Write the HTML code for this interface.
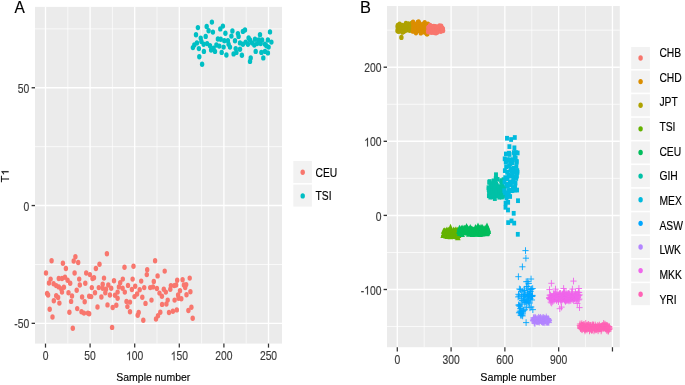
<!DOCTYPE html>
<html><head><meta charset="utf-8"><style>
html,body{margin:0;padding:0;background:#fff;}
svg{display:block;}
text{font-family:'Liberation Sans',sans-serif}
</style></head><body>
<div style="will-change:transform;width:685px;height:385px">
<svg width="685" height="385" viewBox="0 0 685 385" style="font-family:'Liberation Sans',sans-serif">
<rect width="685" height="385" fill="#fff"/>
<rect x="35" y="6.9" width="247" height="336.7" fill="#EBEBEB"/>
<line x1="35" x2="282" y1="28.85" y2="28.85" stroke="#fff" stroke-width="0.72"/>
<line x1="35" x2="282" y1="146.65" y2="146.65" stroke="#fff" stroke-width="0.72"/>
<line x1="35" x2="282" y1="264.45" y2="264.45" stroke="#fff" stroke-width="0.72"/>
<line x1="67.8" x2="67.8" y1="6.9" y2="343.6" stroke="#fff" stroke-width="0.65"/>
<line x1="112.4" x2="112.4" y1="6.9" y2="343.6" stroke="#fff" stroke-width="0.65"/>
<line x1="157" x2="157" y1="6.9" y2="343.6" stroke="#fff" stroke-width="0.65"/>
<line x1="201.6" x2="201.6" y1="6.9" y2="343.6" stroke="#fff" stroke-width="0.65"/>
<line x1="246.2" x2="246.2" y1="6.9" y2="343.6" stroke="#fff" stroke-width="0.65"/>
<line x1="35" x2="282" y1="87.75" y2="87.75" stroke="#fff" stroke-width="1.45"/>
<line x1="35" x2="282" y1="205.55" y2="205.55" stroke="#fff" stroke-width="1.45"/>
<line x1="35" x2="282" y1="323.35" y2="323.35" stroke="#fff" stroke-width="1.45"/>
<line x1="45.5" x2="45.5" y1="6.9" y2="343.6" stroke="#fff" stroke-width="1.3"/>
<line x1="90.1" x2="90.1" y1="6.9" y2="343.6" stroke="#fff" stroke-width="1.3"/>
<line x1="134.7" x2="134.7" y1="6.9" y2="343.6" stroke="#fff" stroke-width="1.3"/>
<line x1="179.3" x2="179.3" y1="6.9" y2="343.6" stroke="#fff" stroke-width="1.3"/>
<line x1="223.9" x2="223.9" y1="6.9" y2="343.6" stroke="#fff" stroke-width="1.3"/>
<line x1="268.5" x2="268.5" y1="6.9" y2="343.6" stroke="#fff" stroke-width="1.3"/>
<rect x="387" y="6" width="232.8" height="341.2" fill="#EBEBEB"/>
<line x1="387" x2="619.8" y1="30.15" y2="30.15" stroke="#fff" stroke-width="0.72"/>
<line x1="387" x2="619.8" y1="104.25" y2="104.25" stroke="#fff" stroke-width="0.72"/>
<line x1="387" x2="619.8" y1="178.35" y2="178.35" stroke="#fff" stroke-width="0.72"/>
<line x1="387" x2="619.8" y1="252.45" y2="252.45" stroke="#fff" stroke-width="0.72"/>
<line x1="387" x2="619.8" y1="326.55" y2="326.55" stroke="#fff" stroke-width="0.72"/>
<line x1="424.19" x2="424.19" y1="6" y2="347.2" stroke="#fff" stroke-width="0.65"/>
<line x1="477.99" x2="477.99" y1="6" y2="347.2" stroke="#fff" stroke-width="0.65"/>
<line x1="531.77" x2="531.77" y1="6" y2="347.2" stroke="#fff" stroke-width="0.65"/>
<line x1="585.57" x2="585.57" y1="6" y2="347.2" stroke="#fff" stroke-width="0.65"/>
<line x1="387" x2="619.8" y1="67.2" y2="67.2" stroke="#fff" stroke-width="1.45"/>
<line x1="387" x2="619.8" y1="141.3" y2="141.3" stroke="#fff" stroke-width="1.45"/>
<line x1="387" x2="619.8" y1="215.4" y2="215.4" stroke="#fff" stroke-width="1.45"/>
<line x1="387" x2="619.8" y1="289.5" y2="289.5" stroke="#fff" stroke-width="1.45"/>
<line x1="397.3" x2="397.3" y1="6" y2="347.2" stroke="#fff" stroke-width="1.3"/>
<line x1="451.09" x2="451.09" y1="6" y2="347.2" stroke="#fff" stroke-width="1.3"/>
<line x1="504.88" x2="504.88" y1="6" y2="347.2" stroke="#fff" stroke-width="1.3"/>
<line x1="558.67" x2="558.67" y1="6" y2="347.2" stroke="#fff" stroke-width="1.3"/>
<line x1="612.46" x2="612.46" y1="6" y2="347.2" stroke="#fff" stroke-width="1.3"/>
<ellipse cx="51.6" cy="260.7" rx="2.2" ry="2.7" fill="#F8766D"/>
<ellipse cx="75.4" cy="256.8" rx="2.2" ry="2.7" fill="#F8766D"/>
<ellipse cx="73.7" cy="261" rx="2.2" ry="2.7" fill="#F8766D"/>
<ellipse cx="78.2" cy="262.5" rx="2.2" ry="2.7" fill="#F8766D"/>
<ellipse cx="62.9" cy="263.3" rx="2.2" ry="2.7" fill="#F8766D"/>
<ellipse cx="65.9" cy="268.5" rx="2.2" ry="2.7" fill="#F8766D"/>
<ellipse cx="46" cy="273" rx="2.2" ry="2.7" fill="#F8766D"/>
<ellipse cx="74.6" cy="273" rx="2.2" ry="2.7" fill="#F8766D"/>
<ellipse cx="86.2" cy="273" rx="2.2" ry="2.7" fill="#F8766D"/>
<ellipse cx="89.9" cy="274.6" rx="2.2" ry="2.7" fill="#F8766D"/>
<ellipse cx="92.5" cy="278.5" rx="2.2" ry="2.7" fill="#F8766D"/>
<ellipse cx="50.6" cy="279.1" rx="2.2" ry="2.7" fill="#F8766D"/>
<ellipse cx="58.8" cy="278.5" rx="2.2" ry="2.7" fill="#F8766D"/>
<ellipse cx="62" cy="278.5" rx="2.2" ry="2.7" fill="#F8766D"/>
<ellipse cx="65" cy="277.2" rx="2.2" ry="2.7" fill="#F8766D"/>
<ellipse cx="67.6" cy="280.2" rx="2.2" ry="2.7" fill="#F8766D"/>
<ellipse cx="70.2" cy="283.3" rx="2.2" ry="2.7" fill="#F8766D"/>
<ellipse cx="79.2" cy="279.1" rx="2.2" ry="2.7" fill="#F8766D"/>
<ellipse cx="49" cy="283" rx="2.2" ry="2.7" fill="#F8766D"/>
<ellipse cx="53.6" cy="283.7" rx="2.2" ry="2.7" fill="#F8766D"/>
<ellipse cx="56.2" cy="285.6" rx="2.2" ry="2.7" fill="#F8766D"/>
<ellipse cx="58.8" cy="286.9" rx="2.2" ry="2.7" fill="#F8766D"/>
<ellipse cx="63.9" cy="287.2" rx="2.2" ry="2.7" fill="#F8766D"/>
<ellipse cx="61.3" cy="288.9" rx="2.2" ry="2.7" fill="#F8766D"/>
<ellipse cx="79.8" cy="285" rx="2.2" ry="2.7" fill="#F8766D"/>
<ellipse cx="85.3" cy="283.3" rx="2.2" ry="2.7" fill="#F8766D"/>
<ellipse cx="91.8" cy="287.6" rx="2.2" ry="2.7" fill="#F8766D"/>
<ellipse cx="76.7" cy="290.2" rx="2.2" ry="2.7" fill="#F8766D"/>
<ellipse cx="62" cy="292.1" rx="2.2" ry="2.7" fill="#F8766D"/>
<ellipse cx="68.5" cy="292.7" rx="2.2" ry="2.7" fill="#F8766D"/>
<ellipse cx="47.1" cy="293.4" rx="2.2" ry="2.7" fill="#F8766D"/>
<ellipse cx="48.1" cy="295" rx="2.2" ry="2.7" fill="#F8766D"/>
<ellipse cx="56.2" cy="295.7" rx="2.2" ry="2.7" fill="#F8766D"/>
<ellipse cx="72" cy="296" rx="2.2" ry="2.7" fill="#F8766D"/>
<ellipse cx="82.1" cy="297" rx="2.2" ry="2.7" fill="#F8766D"/>
<ellipse cx="89.2" cy="296.2" rx="2.2" ry="2.7" fill="#F8766D"/>
<ellipse cx="106.9" cy="253.8" rx="2.2" ry="2.7" fill="#F8766D"/>
<ellipse cx="99.5" cy="264.2" rx="2.2" ry="2.7" fill="#F8766D"/>
<ellipse cx="95.9" cy="268.5" rx="2.2" ry="2.7" fill="#F8766D"/>
<ellipse cx="124.5" cy="267.2" rx="2.2" ry="2.7" fill="#F8766D"/>
<ellipse cx="133.5" cy="266.2" rx="2.2" ry="2.7" fill="#F8766D"/>
<ellipse cx="147.2" cy="269.8" rx="2.2" ry="2.7" fill="#F8766D"/>
<ellipse cx="146.8" cy="274.6" rx="2.2" ry="2.7" fill="#F8766D"/>
<ellipse cx="94" cy="277.8" rx="2.2" ry="2.7" fill="#F8766D"/>
<ellipse cx="104" cy="278.1" rx="2.2" ry="2.7" fill="#F8766D"/>
<ellipse cx="114" cy="280.7" rx="2.2" ry="2.7" fill="#F8766D"/>
<ellipse cx="122.8" cy="279.1" rx="2.2" ry="2.7" fill="#F8766D"/>
<ellipse cx="120.2" cy="282.8" rx="2.2" ry="2.7" fill="#F8766D"/>
<ellipse cx="132.6" cy="279.1" rx="2.2" ry="2.7" fill="#F8766D"/>
<ellipse cx="141.2" cy="281.1" rx="2.2" ry="2.7" fill="#F8766D"/>
<ellipse cx="102.7" cy="284.3" rx="2.2" ry="2.7" fill="#F8766D"/>
<ellipse cx="108.3" cy="285" rx="2.2" ry="2.7" fill="#F8766D"/>
<ellipse cx="98.8" cy="287.6" rx="2.2" ry="2.7" fill="#F8766D"/>
<ellipse cx="102.7" cy="288.2" rx="2.2" ry="2.7" fill="#F8766D"/>
<ellipse cx="106" cy="289.2" rx="2.2" ry="2.7" fill="#F8766D"/>
<ellipse cx="111.2" cy="288.2" rx="2.2" ry="2.7" fill="#F8766D"/>
<ellipse cx="118.9" cy="286.9" rx="2.2" ry="2.7" fill="#F8766D"/>
<ellipse cx="122.6" cy="288.2" rx="2.2" ry="2.7" fill="#F8766D"/>
<ellipse cx="128" cy="285.4" rx="2.2" ry="2.7" fill="#F8766D"/>
<ellipse cx="135.2" cy="286.3" rx="2.2" ry="2.7" fill="#F8766D"/>
<ellipse cx="144.2" cy="287.6" rx="2.2" ry="2.7" fill="#F8766D"/>
<ellipse cx="131.9" cy="289.5" rx="2.2" ry="2.7" fill="#F8766D"/>
<ellipse cx="124.8" cy="292.1" rx="2.2" ry="2.7" fill="#F8766D"/>
<ellipse cx="95" cy="292.7" rx="2.2" ry="2.7" fill="#F8766D"/>
<ellipse cx="105.3" cy="292.7" rx="2.2" ry="2.7" fill="#F8766D"/>
<ellipse cx="117.6" cy="292.1" rx="2.2" ry="2.7" fill="#F8766D"/>
<ellipse cx="139.7" cy="289.8" rx="2.2" ry="2.7" fill="#F8766D"/>
<ellipse cx="137.1" cy="294" rx="2.2" ry="2.7" fill="#F8766D"/>
<ellipse cx="101.4" cy="297" rx="2.2" ry="2.7" fill="#F8766D"/>
<ellipse cx="109.9" cy="295" rx="2.2" ry="2.7" fill="#F8766D"/>
<ellipse cx="115" cy="295.3" rx="2.2" ry="2.7" fill="#F8766D"/>
<ellipse cx="134.5" cy="296.6" rx="2.2" ry="2.7" fill="#F8766D"/>
<ellipse cx="142.3" cy="297.3" rx="2.2" ry="2.7" fill="#F8766D"/>
<ellipse cx="155.1" cy="260.7" rx="2.2" ry="2.7" fill="#F8766D"/>
<ellipse cx="164.7" cy="271.1" rx="2.2" ry="2.7" fill="#F8766D"/>
<ellipse cx="157.6" cy="275.9" rx="2.2" ry="2.7" fill="#F8766D"/>
<ellipse cx="153.8" cy="281.5" rx="2.2" ry="2.7" fill="#F8766D"/>
<ellipse cx="177.2" cy="280.2" rx="2.2" ry="2.7" fill="#F8766D"/>
<ellipse cx="182.6" cy="279.8" rx="2.2" ry="2.7" fill="#F8766D"/>
<ellipse cx="189.7" cy="278.1" rx="2.2" ry="2.7" fill="#F8766D"/>
<ellipse cx="150.2" cy="287.6" rx="2.2" ry="2.7" fill="#F8766D"/>
<ellipse cx="153" cy="286.9" rx="2.2" ry="2.7" fill="#F8766D"/>
<ellipse cx="156.9" cy="288.5" rx="2.2" ry="2.7" fill="#F8766D"/>
<ellipse cx="163.8" cy="289.2" rx="2.2" ry="2.7" fill="#F8766D"/>
<ellipse cx="170.9" cy="285.6" rx="2.2" ry="2.7" fill="#F8766D"/>
<ellipse cx="174.2" cy="285.6" rx="2.2" ry="2.7" fill="#F8766D"/>
<ellipse cx="176.1" cy="285" rx="2.2" ry="2.7" fill="#F8766D"/>
<ellipse cx="170.3" cy="289.2" rx="2.2" ry="2.7" fill="#F8766D"/>
<ellipse cx="183.9" cy="285" rx="2.2" ry="2.7" fill="#F8766D"/>
<ellipse cx="186.2" cy="284.6" rx="2.2" ry="2.7" fill="#F8766D"/>
<ellipse cx="185.2" cy="287.6" rx="2.2" ry="2.7" fill="#F8766D"/>
<ellipse cx="165.8" cy="292.1" rx="2.2" ry="2.7" fill="#F8766D"/>
<ellipse cx="159.5" cy="293.1" rx="2.2" ry="2.7" fill="#F8766D"/>
<ellipse cx="180" cy="290.8" rx="2.2" ry="2.7" fill="#F8766D"/>
<ellipse cx="190.4" cy="291.8" rx="2.2" ry="2.7" fill="#F8766D"/>
<ellipse cx="178.1" cy="295" rx="2.2" ry="2.7" fill="#F8766D"/>
<ellipse cx="186.5" cy="294.7" rx="2.2" ry="2.7" fill="#F8766D"/>
<ellipse cx="161.9" cy="296.2" rx="2.2" ry="2.7" fill="#F8766D"/>
<ellipse cx="58.1" cy="297.5" rx="2.2" ry="2.7" fill="#F8766D"/>
<ellipse cx="53.8" cy="300.8" rx="2.2" ry="2.7" fill="#F8766D"/>
<ellipse cx="59.4" cy="303.1" rx="2.2" ry="2.7" fill="#F8766D"/>
<ellipse cx="71.1" cy="301.4" rx="2.2" ry="2.7" fill="#F8766D"/>
<ellipse cx="84.7" cy="301.8" rx="2.2" ry="2.7" fill="#F8766D"/>
<ellipse cx="91.2" cy="296.6" rx="2.2" ry="2.7" fill="#F8766D"/>
<ellipse cx="49.7" cy="309.2" rx="2.2" ry="2.7" fill="#F8766D"/>
<ellipse cx="69.4" cy="312.2" rx="2.2" ry="2.7" fill="#F8766D"/>
<ellipse cx="77.2" cy="308.6" rx="2.2" ry="2.7" fill="#F8766D"/>
<ellipse cx="81.5" cy="311.8" rx="2.2" ry="2.7" fill="#F8766D"/>
<ellipse cx="84" cy="313.1" rx="2.2" ry="2.7" fill="#F8766D"/>
<ellipse cx="87.9" cy="313.1" rx="2.2" ry="2.7" fill="#F8766D"/>
<ellipse cx="89.2" cy="313.8" rx="2.2" ry="2.7" fill="#F8766D"/>
<ellipse cx="52.5" cy="317" rx="2.2" ry="2.7" fill="#F8766D"/>
<ellipse cx="72.8" cy="328.3" rx="2.2" ry="2.7" fill="#F8766D"/>
<ellipse cx="117.6" cy="298.2" rx="2.2" ry="2.7" fill="#F8766D"/>
<ellipse cx="97.5" cy="307" rx="2.2" ry="2.7" fill="#F8766D"/>
<ellipse cx="107.5" cy="304.9" rx="2.2" ry="2.7" fill="#F8766D"/>
<ellipse cx="112.7" cy="307.5" rx="2.2" ry="2.7" fill="#F8766D"/>
<ellipse cx="116.3" cy="305.3" rx="2.2" ry="2.7" fill="#F8766D"/>
<ellipse cx="126.5" cy="301.4" rx="2.2" ry="2.7" fill="#F8766D"/>
<ellipse cx="130" cy="302.1" rx="2.2" ry="2.7" fill="#F8766D"/>
<ellipse cx="127.4" cy="306.6" rx="2.2" ry="2.7" fill="#F8766D"/>
<ellipse cx="130" cy="311.8" rx="2.2" ry="2.7" fill="#F8766D"/>
<ellipse cx="138.7" cy="312.5" rx="2.2" ry="2.7" fill="#F8766D"/>
<ellipse cx="137.7" cy="315.3" rx="2.2" ry="2.7" fill="#F8766D"/>
<ellipse cx="145.5" cy="303.4" rx="2.2" ry="2.7" fill="#F8766D"/>
<ellipse cx="143.3" cy="320.2" rx="2.2" ry="2.7" fill="#F8766D"/>
<ellipse cx="112.1" cy="327.4" rx="2.2" ry="2.7" fill="#F8766D"/>
<ellipse cx="151.5" cy="300.1" rx="2.2" ry="2.7" fill="#F8766D"/>
<ellipse cx="167.7" cy="300.1" rx="2.2" ry="2.7" fill="#F8766D"/>
<ellipse cx="166.4" cy="304" rx="2.2" ry="2.7" fill="#F8766D"/>
<ellipse cx="162.1" cy="304.4" rx="2.2" ry="2.7" fill="#F8766D"/>
<ellipse cx="174.6" cy="300.1" rx="2.2" ry="2.7" fill="#F8766D"/>
<ellipse cx="181.3" cy="298.8" rx="2.2" ry="2.7" fill="#F8766D"/>
<ellipse cx="178.5" cy="298.2" rx="2.2" ry="2.7" fill="#F8766D"/>
<ellipse cx="160.3" cy="312.2" rx="2.2" ry="2.7" fill="#F8766D"/>
<ellipse cx="158" cy="315.7" rx="2.2" ry="2.7" fill="#F8766D"/>
<ellipse cx="156" cy="319" rx="2.2" ry="2.7" fill="#F8766D"/>
<ellipse cx="169" cy="312.5" rx="2.2" ry="2.7" fill="#F8766D"/>
<ellipse cx="172.9" cy="311.2" rx="2.2" ry="2.7" fill="#F8766D"/>
<ellipse cx="176.8" cy="309.9" rx="2.2" ry="2.7" fill="#F8766D"/>
<ellipse cx="188.4" cy="310.5" rx="2.2" ry="2.7" fill="#F8766D"/>
<ellipse cx="191.4" cy="307.3" rx="2.2" ry="2.7" fill="#F8766D"/>
<ellipse cx="192.7" cy="318.3" rx="2.2" ry="2.7" fill="#F8766D"/>
<ellipse cx="211.9" cy="22.1" rx="2.2" ry="2.7" fill="#00BFC4"/>
<ellipse cx="197.9" cy="27.6" rx="2.2" ry="2.7" fill="#00BFC4"/>
<ellipse cx="206.7" cy="26.4" rx="2.2" ry="2.7" fill="#00BFC4"/>
<ellipse cx="222.9" cy="26.1" rx="2.2" ry="2.7" fill="#00BFC4"/>
<ellipse cx="220.3" cy="28.9" rx="2.2" ry="2.7" fill="#00BFC4"/>
<ellipse cx="208.6" cy="30.7" rx="2.2" ry="2.7" fill="#00BFC4"/>
<ellipse cx="212.9" cy="32.1" rx="2.2" ry="2.7" fill="#00BFC4"/>
<ellipse cx="225.4" cy="33.3" rx="2.2" ry="2.7" fill="#00BFC4"/>
<ellipse cx="196" cy="34.7" rx="2.2" ry="2.7" fill="#00BFC4"/>
<ellipse cx="205.7" cy="36.4" rx="2.2" ry="2.7" fill="#00BFC4"/>
<ellipse cx="200.7" cy="38.1" rx="2.2" ry="2.7" fill="#00BFC4"/>
<ellipse cx="217.9" cy="39" rx="2.2" ry="2.7" fill="#00BFC4"/>
<ellipse cx="220.7" cy="39.3" rx="2.2" ry="2.7" fill="#00BFC4"/>
<ellipse cx="224.3" cy="40.7" rx="2.2" ry="2.7" fill="#00BFC4"/>
<ellipse cx="227.9" cy="40.7" rx="2.2" ry="2.7" fill="#00BFC4"/>
<ellipse cx="201.4" cy="41.4" rx="2.2" ry="2.7" fill="#00BFC4"/>
<ellipse cx="196.9" cy="42.9" rx="2.2" ry="2.7" fill="#00BFC4"/>
<ellipse cx="203.6" cy="44.3" rx="2.2" ry="2.7" fill="#00BFC4"/>
<ellipse cx="207.1" cy="43.6" rx="2.2" ry="2.7" fill="#00BFC4"/>
<ellipse cx="194.3" cy="45" rx="2.2" ry="2.7" fill="#00BFC4"/>
<ellipse cx="210" cy="45.7" rx="2.2" ry="2.7" fill="#00BFC4"/>
<ellipse cx="216.4" cy="45" rx="2.2" ry="2.7" fill="#00BFC4"/>
<ellipse cx="219.3" cy="46.1" rx="2.2" ry="2.7" fill="#00BFC4"/>
<ellipse cx="192.9" cy="47.6" rx="2.2" ry="2.7" fill="#00BFC4"/>
<ellipse cx="198.9" cy="48.6" rx="2.2" ry="2.7" fill="#00BFC4"/>
<ellipse cx="213.6" cy="48.1" rx="2.2" ry="2.7" fill="#00BFC4"/>
<ellipse cx="223.6" cy="47.1" rx="2.2" ry="2.7" fill="#00BFC4"/>
<ellipse cx="211.1" cy="50" rx="2.2" ry="2.7" fill="#00BFC4"/>
<ellipse cx="215" cy="51.4" rx="2.2" ry="2.7" fill="#00BFC4"/>
<ellipse cx="203.9" cy="51.4" rx="2.2" ry="2.7" fill="#00BFC4"/>
<ellipse cx="221.7" cy="52.4" rx="2.2" ry="2.7" fill="#00BFC4"/>
<ellipse cx="226.4" cy="55" rx="2.2" ry="2.7" fill="#00BFC4"/>
<ellipse cx="199.3" cy="56.7" rx="2.2" ry="2.7" fill="#00BFC4"/>
<ellipse cx="202.1" cy="64.3" rx="2.2" ry="2.7" fill="#00BFC4"/>
<ellipse cx="232.4" cy="31" rx="2.2" ry="2.7" fill="#00BFC4"/>
<ellipse cx="237.9" cy="33.6" rx="2.2" ry="2.7" fill="#00BFC4"/>
<ellipse cx="242.9" cy="31.4" rx="2.2" ry="2.7" fill="#00BFC4"/>
<ellipse cx="245" cy="30" rx="2.2" ry="2.7" fill="#00BFC4"/>
<ellipse cx="231.4" cy="36.1" rx="2.2" ry="2.7" fill="#00BFC4"/>
<ellipse cx="238.6" cy="36.4" rx="2.2" ry="2.7" fill="#00BFC4"/>
<ellipse cx="260" cy="34.7" rx="2.2" ry="2.7" fill="#00BFC4"/>
<ellipse cx="235" cy="40.7" rx="2.2" ry="2.7" fill="#00BFC4"/>
<ellipse cx="248.6" cy="37.9" rx="2.2" ry="2.7" fill="#00BFC4"/>
<ellipse cx="250" cy="40" rx="2.2" ry="2.7" fill="#00BFC4"/>
<ellipse cx="255" cy="39.3" rx="2.2" ry="2.7" fill="#00BFC4"/>
<ellipse cx="258.6" cy="40" rx="2.2" ry="2.7" fill="#00BFC4"/>
<ellipse cx="262.1" cy="40" rx="2.2" ry="2.7" fill="#00BFC4"/>
<ellipse cx="240" cy="42.9" rx="2.2" ry="2.7" fill="#00BFC4"/>
<ellipse cx="242.9" cy="44.3" rx="2.2" ry="2.7" fill="#00BFC4"/>
<ellipse cx="245.7" cy="42.1" rx="2.2" ry="2.7" fill="#00BFC4"/>
<ellipse cx="247.9" cy="44.3" rx="2.2" ry="2.7" fill="#00BFC4"/>
<ellipse cx="252.1" cy="42.9" rx="2.2" ry="2.7" fill="#00BFC4"/>
<ellipse cx="254.3" cy="45" rx="2.2" ry="2.7" fill="#00BFC4"/>
<ellipse cx="257.1" cy="43.6" rx="2.2" ry="2.7" fill="#00BFC4"/>
<ellipse cx="260.7" cy="43.6" rx="2.2" ry="2.7" fill="#00BFC4"/>
<ellipse cx="228.6" cy="44.3" rx="2.2" ry="2.7" fill="#00BFC4"/>
<ellipse cx="230" cy="47.1" rx="2.2" ry="2.7" fill="#00BFC4"/>
<ellipse cx="235.7" cy="48.6" rx="2.2" ry="2.7" fill="#00BFC4"/>
<ellipse cx="240" cy="49.3" rx="2.2" ry="2.7" fill="#00BFC4"/>
<ellipse cx="236.4" cy="52.4" rx="2.2" ry="2.7" fill="#00BFC4"/>
<ellipse cx="233.6" cy="53.9" rx="2.2" ry="2.7" fill="#00BFC4"/>
<ellipse cx="241.9" cy="55.3" rx="2.2" ry="2.7" fill="#00BFC4"/>
<ellipse cx="255.7" cy="51.4" rx="2.2" ry="2.7" fill="#00BFC4"/>
<ellipse cx="261.4" cy="52.4" rx="2.2" ry="2.7" fill="#00BFC4"/>
<ellipse cx="263.3" cy="57.9" rx="2.2" ry="2.7" fill="#00BFC4"/>
<ellipse cx="250.7" cy="57.9" rx="2.2" ry="2.7" fill="#00BFC4"/>
<ellipse cx="250" cy="61.4" rx="2.2" ry="2.7" fill="#00BFC4"/>
<ellipse cx="270" cy="31.9" rx="2.2" ry="2.7" fill="#00BFC4"/>
<ellipse cx="267.9" cy="40" rx="2.2" ry="2.7" fill="#00BFC4"/>
<ellipse cx="271.4" cy="42.1" rx="2.2" ry="2.7" fill="#00BFC4"/>
<ellipse cx="265" cy="44.3" rx="2.2" ry="2.7" fill="#00BFC4"/>
<ellipse cx="268.6" cy="47.1" rx="2.2" ry="2.7" fill="#00BFC4"/>
<ellipse cx="266.4" cy="45.7" rx="2.2" ry="2.7" fill="#00BFC4"/>
<ellipse cx="265" cy="51.4" rx="2.2" ry="2.7" fill="#00BFC4"/>
<ellipse cx="267.9" cy="52.9" rx="2.2" ry="2.7" fill="#00BFC4"/>
<ellipse cx="397.48" cy="30.83" rx="2.2" ry="2.7" fill="#AEA200"/>
<ellipse cx="397.66" cy="27.03" rx="2.2" ry="2.7" fill="#AEA200"/>
<ellipse cx="397.84" cy="25.57" rx="2.2" ry="2.7" fill="#AEA200"/>
<ellipse cx="398.02" cy="29.14" rx="2.2" ry="2.7" fill="#AEA200"/>
<ellipse cx="398.2" cy="31.08" rx="2.2" ry="2.7" fill="#AEA200"/>
<ellipse cx="398.38" cy="28.08" rx="2.2" ry="2.7" fill="#AEA200"/>
<ellipse cx="398.56" cy="26.79" rx="2.2" ry="2.7" fill="#AEA200"/>
<ellipse cx="398.73" cy="25.32" rx="2.2" ry="2.7" fill="#AEA200"/>
<ellipse cx="398.91" cy="30.81" rx="2.2" ry="2.7" fill="#AEA200"/>
<ellipse cx="399.09" cy="30.99" rx="2.2" ry="2.7" fill="#AEA200"/>
<ellipse cx="399.27" cy="26.25" rx="2.2" ry="2.7" fill="#AEA200"/>
<ellipse cx="399.45" cy="26.8" rx="2.2" ry="2.7" fill="#AEA200"/>
<ellipse cx="399.63" cy="24.29" rx="2.2" ry="2.7" fill="#AEA200"/>
<ellipse cx="399.81" cy="25.6" rx="2.2" ry="2.7" fill="#AEA200"/>
<ellipse cx="399.99" cy="28.17" rx="2.2" ry="2.7" fill="#AEA200"/>
<ellipse cx="400.17" cy="28.58" rx="2.2" ry="2.7" fill="#AEA200"/>
<ellipse cx="400.35" cy="28.61" rx="2.2" ry="2.7" fill="#AEA200"/>
<ellipse cx="400.53" cy="29.79" rx="2.2" ry="2.7" fill="#AEA200"/>
<ellipse cx="400.71" cy="30.63" rx="2.2" ry="2.7" fill="#AEA200"/>
<ellipse cx="400.89" cy="27.7" rx="2.2" ry="2.7" fill="#AEA200"/>
<ellipse cx="401.07" cy="27.58" rx="2.2" ry="2.7" fill="#AEA200"/>
<ellipse cx="401.24" cy="28.74" rx="2.2" ry="2.7" fill="#AEA200"/>
<ellipse cx="401.4" cy="37.4" rx="2.2" ry="2.7" fill="#AEA200"/>
<ellipse cx="401.6" cy="28.07" rx="2.2" ry="2.7" fill="#AEA200"/>
<ellipse cx="401.78" cy="27.28" rx="2.2" ry="2.7" fill="#AEA200"/>
<ellipse cx="401.96" cy="26.29" rx="2.2" ry="2.7" fill="#AEA200"/>
<ellipse cx="402.14" cy="25.33" rx="2.2" ry="2.7" fill="#AEA200"/>
<ellipse cx="402.32" cy="27.43" rx="2.2" ry="2.7" fill="#AEA200"/>
<ellipse cx="402.5" cy="32.17" rx="2.2" ry="2.7" fill="#AEA200"/>
<ellipse cx="402.68" cy="26.26" rx="2.2" ry="2.7" fill="#AEA200"/>
<ellipse cx="402.86" cy="31.29" rx="2.2" ry="2.7" fill="#AEA200"/>
<ellipse cx="403.04" cy="28.33" rx="2.2" ry="2.7" fill="#AEA200"/>
<ellipse cx="403.22" cy="31.42" rx="2.2" ry="2.7" fill="#AEA200"/>
<ellipse cx="403.4" cy="27.92" rx="2.2" ry="2.7" fill="#AEA200"/>
<ellipse cx="403.58" cy="29.77" rx="2.2" ry="2.7" fill="#AEA200"/>
<ellipse cx="403.75" cy="27.42" rx="2.2" ry="2.7" fill="#AEA200"/>
<ellipse cx="403.93" cy="28.04" rx="2.2" ry="2.7" fill="#AEA200"/>
<ellipse cx="404.11" cy="25.93" rx="2.2" ry="2.7" fill="#AEA200"/>
<ellipse cx="404.29" cy="31.06" rx="2.2" ry="2.7" fill="#AEA200"/>
<ellipse cx="404.47" cy="28.61" rx="2.2" ry="2.7" fill="#AEA200"/>
<ellipse cx="404.65" cy="26.36" rx="2.2" ry="2.7" fill="#AEA200"/>
<ellipse cx="404.83" cy="28.15" rx="2.2" ry="2.7" fill="#AEA200"/>
<ellipse cx="405.01" cy="27.05" rx="2.2" ry="2.7" fill="#AEA200"/>
<ellipse cx="405.19" cy="27.68" rx="2.2" ry="2.7" fill="#AEA200"/>
<ellipse cx="405.37" cy="30.31" rx="2.2" ry="2.7" fill="#AEA200"/>
<ellipse cx="405.55" cy="26.59" rx="2.2" ry="2.7" fill="#AEA200"/>
<ellipse cx="405.73" cy="29.85" rx="2.2" ry="2.7" fill="#AEA200"/>
<ellipse cx="405.91" cy="23.49" rx="2.2" ry="2.7" fill="#AEA200"/>
<ellipse cx="406.09" cy="29.12" rx="2.2" ry="2.7" fill="#AEA200"/>
<ellipse cx="406.26" cy="26.3" rx="2.2" ry="2.7" fill="#AEA200"/>
<ellipse cx="406.44" cy="27.92" rx="2.2" ry="2.7" fill="#AEA200"/>
<ellipse cx="406.62" cy="25.67" rx="2.2" ry="2.7" fill="#AEA200"/>
<ellipse cx="406.8" cy="29.35" rx="2.2" ry="2.7" fill="#AEA200"/>
<ellipse cx="406.98" cy="25.56" rx="2.2" ry="2.7" fill="#AEA200"/>
<ellipse cx="407.16" cy="28.22" rx="2.2" ry="2.7" fill="#AEA200"/>
<ellipse cx="407.34" cy="24.93" rx="2.2" ry="2.7" fill="#AEA200"/>
<ellipse cx="407.52" cy="26.45" rx="2.2" ry="2.7" fill="#AEA200"/>
<ellipse cx="407.7" cy="27.59" rx="2.2" ry="2.7" fill="#AEA200"/>
<ellipse cx="407.88" cy="29.78" rx="2.2" ry="2.7" fill="#AEA200"/>
<ellipse cx="408.06" cy="26.11" rx="2.2" ry="2.7" fill="#AEA200"/>
<ellipse cx="408.24" cy="26.82" rx="2.2" ry="2.7" fill="#AEA200"/>
<ellipse cx="408.42" cy="24.03" rx="2.2" ry="2.7" fill="#AEA200"/>
<ellipse cx="408.6" cy="28.82" rx="2.2" ry="2.7" fill="#AEA200"/>
<ellipse cx="408.78" cy="26.61" rx="2.2" ry="2.7" fill="#AEA200"/>
<ellipse cx="408.95" cy="26.72" rx="2.2" ry="2.7" fill="#AEA200"/>
<ellipse cx="409.13" cy="27.26" rx="2.2" ry="2.7" fill="#AEA200"/>
<ellipse cx="409.31" cy="27.43" rx="2.2" ry="2.7" fill="#AEA200"/>
<ellipse cx="409.49" cy="27.5" rx="2.2" ry="2.7" fill="#AEA200"/>
<ellipse cx="409.67" cy="29.35" rx="2.2" ry="2.7" fill="#AEA200"/>
<ellipse cx="409.85" cy="30.33" rx="2.2" ry="2.7" fill="#AEA200"/>
<ellipse cx="410.03" cy="28.87" rx="2.2" ry="2.7" fill="#AEA200"/>
<ellipse cx="410.21" cy="26.53" rx="2.2" ry="2.7" fill="#AEA200"/>
<ellipse cx="410.39" cy="24.34" rx="2.2" ry="2.7" fill="#AEA200"/>
<ellipse cx="410.57" cy="25.61" rx="2.2" ry="2.7" fill="#AEA200"/>
<ellipse cx="410.75" cy="25.43" rx="2.2" ry="2.7" fill="#AEA200"/>
<ellipse cx="410.93" cy="26.08" rx="2.2" ry="2.7" fill="#AEA200"/>
<ellipse cx="411.11" cy="26.27" rx="2.2" ry="2.7" fill="#AEA200"/>
<ellipse cx="411.29" cy="27.49" rx="2.2" ry="2.7" fill="#AEA200"/>
<ellipse cx="411.46" cy="26.1" rx="2.2" ry="2.7" fill="#AEA200"/>
<ellipse cx="411.64" cy="23.72" rx="2.2" ry="2.7" fill="#AEA200"/>
<ellipse cx="411.82" cy="28.7" rx="2.2" ry="2.7" fill="#AEA200"/>
<ellipse cx="412" cy="29.57" rx="2.2" ry="2.7" fill="#AEA200"/>
<ellipse cx="412.18" cy="23.28" rx="2.2" ry="2.7" fill="#AEA200"/>
<ellipse cx="412.36" cy="27.35" rx="2.2" ry="2.7" fill="#AEA200"/>
<ellipse cx="412.54" cy="25.62" rx="2.2" ry="2.7" fill="#AEA200"/>
<ellipse cx="412.72" cy="25.85" rx="2.2" ry="2.7" fill="#AEA200"/>
<ellipse cx="412.9" cy="31.16" rx="2.2" ry="2.7" fill="#DB8E00"/>
<ellipse cx="413.08" cy="22.17" rx="2.2" ry="2.7" fill="#DB8E00"/>
<ellipse cx="413.26" cy="23.82" rx="2.2" ry="2.7" fill="#DB8E00"/>
<ellipse cx="413.44" cy="27.85" rx="2.2" ry="2.7" fill="#DB8E00"/>
<ellipse cx="413.62" cy="26.4" rx="2.2" ry="2.7" fill="#DB8E00"/>
<ellipse cx="413.8" cy="27.98" rx="2.2" ry="2.7" fill="#DB8E00"/>
<ellipse cx="413.97" cy="30.53" rx="2.2" ry="2.7" fill="#DB8E00"/>
<ellipse cx="414.15" cy="28.58" rx="2.2" ry="2.7" fill="#DB8E00"/>
<ellipse cx="414.33" cy="27.36" rx="2.2" ry="2.7" fill="#DB8E00"/>
<ellipse cx="414.51" cy="25.49" rx="2.2" ry="2.7" fill="#DB8E00"/>
<ellipse cx="414.69" cy="26.51" rx="2.2" ry="2.7" fill="#DB8E00"/>
<ellipse cx="414.87" cy="28.15" rx="2.2" ry="2.7" fill="#DB8E00"/>
<ellipse cx="415.05" cy="24.88" rx="2.2" ry="2.7" fill="#DB8E00"/>
<ellipse cx="415.23" cy="30.21" rx="2.2" ry="2.7" fill="#DB8E00"/>
<ellipse cx="415.41" cy="26.3" rx="2.2" ry="2.7" fill="#DB8E00"/>
<ellipse cx="415.59" cy="25.5" rx="2.2" ry="2.7" fill="#DB8E00"/>
<ellipse cx="415.77" cy="29.03" rx="2.2" ry="2.7" fill="#DB8E00"/>
<ellipse cx="415.95" cy="32.81" rx="2.2" ry="2.7" fill="#DB8E00"/>
<ellipse cx="416.13" cy="30.58" rx="2.2" ry="2.7" fill="#DB8E00"/>
<ellipse cx="416.31" cy="27.7" rx="2.2" ry="2.7" fill="#DB8E00"/>
<ellipse cx="416.49" cy="26.97" rx="2.2" ry="2.7" fill="#DB8E00"/>
<ellipse cx="416.66" cy="24.4" rx="2.2" ry="2.7" fill="#DB8E00"/>
<ellipse cx="416.84" cy="30.83" rx="2.2" ry="2.7" fill="#DB8E00"/>
<ellipse cx="417.02" cy="28.29" rx="2.2" ry="2.7" fill="#DB8E00"/>
<ellipse cx="417.2" cy="26.66" rx="2.2" ry="2.7" fill="#DB8E00"/>
<ellipse cx="417.38" cy="28.69" rx="2.2" ry="2.7" fill="#DB8E00"/>
<ellipse cx="417.56" cy="26.27" rx="2.2" ry="2.7" fill="#DB8E00"/>
<ellipse cx="417.74" cy="22.47" rx="2.2" ry="2.7" fill="#DB8E00"/>
<ellipse cx="417.92" cy="25.77" rx="2.2" ry="2.7" fill="#DB8E00"/>
<ellipse cx="418.1" cy="30.61" rx="2.2" ry="2.7" fill="#DB8E00"/>
<ellipse cx="418.28" cy="29.34" rx="2.2" ry="2.7" fill="#DB8E00"/>
<ellipse cx="418.46" cy="27.74" rx="2.2" ry="2.7" fill="#DB8E00"/>
<ellipse cx="418.64" cy="22.03" rx="2.2" ry="2.7" fill="#DB8E00"/>
<ellipse cx="418.82" cy="26.74" rx="2.2" ry="2.7" fill="#DB8E00"/>
<ellipse cx="419" cy="28.01" rx="2.2" ry="2.7" fill="#DB8E00"/>
<ellipse cx="419.17" cy="24.37" rx="2.2" ry="2.7" fill="#DB8E00"/>
<ellipse cx="419.35" cy="28.5" rx="2.2" ry="2.7" fill="#DB8E00"/>
<ellipse cx="419.53" cy="23.61" rx="2.2" ry="2.7" fill="#DB8E00"/>
<ellipse cx="419.71" cy="30.02" rx="2.2" ry="2.7" fill="#DB8E00"/>
<ellipse cx="419.89" cy="29.49" rx="2.2" ry="2.7" fill="#DB8E00"/>
<ellipse cx="420.07" cy="26.48" rx="2.2" ry="2.7" fill="#DB8E00"/>
<ellipse cx="420.25" cy="24.71" rx="2.2" ry="2.7" fill="#DB8E00"/>
<ellipse cx="420.43" cy="26.65" rx="2.2" ry="2.7" fill="#DB8E00"/>
<ellipse cx="420.61" cy="27.54" rx="2.2" ry="2.7" fill="#DB8E00"/>
<ellipse cx="420.79" cy="32.89" rx="2.2" ry="2.7" fill="#DB8E00"/>
<ellipse cx="420.97" cy="30.09" rx="2.2" ry="2.7" fill="#DB8E00"/>
<ellipse cx="421.15" cy="29.84" rx="2.2" ry="2.7" fill="#DB8E00"/>
<ellipse cx="421.33" cy="29.64" rx="2.2" ry="2.7" fill="#DB8E00"/>
<ellipse cx="421.51" cy="26.82" rx="2.2" ry="2.7" fill="#DB8E00"/>
<ellipse cx="421.68" cy="29.14" rx="2.2" ry="2.7" fill="#DB8E00"/>
<ellipse cx="421.86" cy="26.31" rx="2.2" ry="2.7" fill="#DB8E00"/>
<ellipse cx="422.04" cy="28.09" rx="2.2" ry="2.7" fill="#DB8E00"/>
<ellipse cx="422.22" cy="29.14" rx="2.2" ry="2.7" fill="#DB8E00"/>
<ellipse cx="422.4" cy="28" rx="2.2" ry="2.7" fill="#DB8E00"/>
<ellipse cx="422.58" cy="27.22" rx="2.2" ry="2.7" fill="#DB8E00"/>
<ellipse cx="422.76" cy="26.14" rx="2.2" ry="2.7" fill="#DB8E00"/>
<ellipse cx="422.94" cy="29.5" rx="2.2" ry="2.7" fill="#DB8E00"/>
<ellipse cx="423.12" cy="28.88" rx="2.2" ry="2.7" fill="#DB8E00"/>
<ellipse cx="423.3" cy="31.73" rx="2.2" ry="2.7" fill="#DB8E00"/>
<ellipse cx="423.48" cy="24.26" rx="2.2" ry="2.7" fill="#DB8E00"/>
<ellipse cx="423.66" cy="24.64" rx="2.2" ry="2.7" fill="#DB8E00"/>
<ellipse cx="423.84" cy="28.75" rx="2.2" ry="2.7" fill="#DB8E00"/>
<ellipse cx="424.02" cy="29.5" rx="2.2" ry="2.7" fill="#DB8E00"/>
<ellipse cx="424.19" cy="31.41" rx="2.2" ry="2.7" fill="#DB8E00"/>
<ellipse cx="424.37" cy="27.87" rx="2.2" ry="2.7" fill="#DB8E00"/>
<ellipse cx="424.55" cy="27.78" rx="2.2" ry="2.7" fill="#DB8E00"/>
<ellipse cx="424.73" cy="22.8" rx="2.2" ry="2.7" fill="#DB8E00"/>
<ellipse cx="424.91" cy="27.68" rx="2.2" ry="2.7" fill="#DB8E00"/>
<ellipse cx="425.09" cy="30.26" rx="2.2" ry="2.7" fill="#DB8E00"/>
<ellipse cx="425.27" cy="24.75" rx="2.2" ry="2.7" fill="#DB8E00"/>
<ellipse cx="425.45" cy="27.82" rx="2.2" ry="2.7" fill="#DB8E00"/>
<ellipse cx="425.63" cy="32.35" rx="2.2" ry="2.7" fill="#DB8E00"/>
<ellipse cx="425.81" cy="27.84" rx="2.2" ry="2.7" fill="#DB8E00"/>
<ellipse cx="425.99" cy="32.35" rx="2.2" ry="2.7" fill="#DB8E00"/>
<ellipse cx="426.17" cy="25.48" rx="2.2" ry="2.7" fill="#DB8E00"/>
<ellipse cx="426.35" cy="26.86" rx="2.2" ry="2.7" fill="#DB8E00"/>
<ellipse cx="426.53" cy="28.74" rx="2.2" ry="2.7" fill="#DB8E00"/>
<ellipse cx="426.71" cy="33.69" rx="2.2" ry="2.7" fill="#DB8E00"/>
<ellipse cx="426.88" cy="28.62" rx="2.2" ry="2.7" fill="#DB8E00"/>
<ellipse cx="427.06" cy="32.21" rx="2.2" ry="2.7" fill="#DB8E00"/>
<ellipse cx="427.24" cy="26.8" rx="2.2" ry="2.7" fill="#DB8E00"/>
<ellipse cx="427.42" cy="33.69" rx="2.2" ry="2.7" fill="#DB8E00"/>
<ellipse cx="427.6" cy="30.58" rx="2.2" ry="2.7" fill="#DB8E00"/>
<ellipse cx="427.78" cy="25.22" rx="2.2" ry="2.7" fill="#DB8E00"/>
<ellipse cx="427.96" cy="24.16" rx="2.2" ry="2.7" fill="#DB8E00"/>
<ellipse cx="428.14" cy="31.14" rx="2.2" ry="2.7" fill="#F8766D"/>
<ellipse cx="428.32" cy="31.77" rx="2.2" ry="2.7" fill="#F8766D"/>
<ellipse cx="428.5" cy="27.47" rx="2.2" ry="2.7" fill="#F8766D"/>
<ellipse cx="428.68" cy="27.52" rx="2.2" ry="2.7" fill="#F8766D"/>
<ellipse cx="428.86" cy="30.79" rx="2.2" ry="2.7" fill="#F8766D"/>
<ellipse cx="429.04" cy="30.27" rx="2.2" ry="2.7" fill="#F8766D"/>
<ellipse cx="429.22" cy="30.27" rx="2.2" ry="2.7" fill="#F8766D"/>
<ellipse cx="429.39" cy="31.15" rx="2.2" ry="2.7" fill="#F8766D"/>
<ellipse cx="429.57" cy="30.25" rx="2.2" ry="2.7" fill="#F8766D"/>
<ellipse cx="429.75" cy="26.81" rx="2.2" ry="2.7" fill="#F8766D"/>
<ellipse cx="429.93" cy="27.81" rx="2.2" ry="2.7" fill="#F8766D"/>
<ellipse cx="430.11" cy="25.38" rx="2.2" ry="2.7" fill="#F8766D"/>
<ellipse cx="430.29" cy="29.19" rx="2.2" ry="2.7" fill="#F8766D"/>
<ellipse cx="430.47" cy="29.28" rx="2.2" ry="2.7" fill="#F8766D"/>
<ellipse cx="430.65" cy="30.79" rx="2.2" ry="2.7" fill="#F8766D"/>
<ellipse cx="430.83" cy="29.26" rx="2.2" ry="2.7" fill="#F8766D"/>
<ellipse cx="431.01" cy="31.37" rx="2.2" ry="2.7" fill="#F8766D"/>
<ellipse cx="431.19" cy="32.2" rx="2.2" ry="2.7" fill="#F8766D"/>
<ellipse cx="431.37" cy="27.8" rx="2.2" ry="2.7" fill="#F8766D"/>
<ellipse cx="431.55" cy="26.48" rx="2.2" ry="2.7" fill="#F8766D"/>
<ellipse cx="431.73" cy="27.55" rx="2.2" ry="2.7" fill="#F8766D"/>
<ellipse cx="431.9" cy="26.67" rx="2.2" ry="2.7" fill="#F8766D"/>
<ellipse cx="432.08" cy="28.59" rx="2.2" ry="2.7" fill="#F8766D"/>
<ellipse cx="432.26" cy="30.32" rx="2.2" ry="2.7" fill="#F8766D"/>
<ellipse cx="432.44" cy="28.88" rx="2.2" ry="2.7" fill="#F8766D"/>
<ellipse cx="432.62" cy="29.7" rx="2.2" ry="2.7" fill="#F8766D"/>
<ellipse cx="432.8" cy="31.02" rx="2.2" ry="2.7" fill="#F8766D"/>
<ellipse cx="432.98" cy="32.05" rx="2.2" ry="2.7" fill="#F8766D"/>
<ellipse cx="433.16" cy="31.68" rx="2.2" ry="2.7" fill="#F8766D"/>
<ellipse cx="433.34" cy="29.05" rx="2.2" ry="2.7" fill="#F8766D"/>
<ellipse cx="433.52" cy="28.77" rx="2.2" ry="2.7" fill="#F8766D"/>
<ellipse cx="433.7" cy="29.88" rx="2.2" ry="2.7" fill="#F8766D"/>
<ellipse cx="433.88" cy="26.5" rx="2.2" ry="2.7" fill="#F8766D"/>
<ellipse cx="434.06" cy="28.72" rx="2.2" ry="2.7" fill="#F8766D"/>
<ellipse cx="434.24" cy="28" rx="2.2" ry="2.7" fill="#F8766D"/>
<ellipse cx="434.42" cy="26.87" rx="2.2" ry="2.7" fill="#F8766D"/>
<ellipse cx="434.59" cy="30.5" rx="2.2" ry="2.7" fill="#F8766D"/>
<ellipse cx="434.77" cy="32.54" rx="2.2" ry="2.7" fill="#F8766D"/>
<ellipse cx="434.95" cy="27.7" rx="2.2" ry="2.7" fill="#F8766D"/>
<ellipse cx="435.13" cy="30.26" rx="2.2" ry="2.7" fill="#F8766D"/>
<ellipse cx="435.31" cy="26.71" rx="2.2" ry="2.7" fill="#F8766D"/>
<ellipse cx="435.49" cy="28.44" rx="2.2" ry="2.7" fill="#F8766D"/>
<ellipse cx="435.67" cy="27.25" rx="2.2" ry="2.7" fill="#F8766D"/>
<ellipse cx="435.85" cy="27.68" rx="2.2" ry="2.7" fill="#F8766D"/>
<ellipse cx="436.03" cy="32.74" rx="2.2" ry="2.7" fill="#F8766D"/>
<ellipse cx="436.21" cy="27.76" rx="2.2" ry="2.7" fill="#F8766D"/>
<ellipse cx="436.39" cy="30.24" rx="2.2" ry="2.7" fill="#F8766D"/>
<ellipse cx="436.57" cy="30.38" rx="2.2" ry="2.7" fill="#F8766D"/>
<ellipse cx="436.75" cy="29.81" rx="2.2" ry="2.7" fill="#F8766D"/>
<ellipse cx="436.93" cy="27.67" rx="2.2" ry="2.7" fill="#F8766D"/>
<ellipse cx="437.1" cy="27.47" rx="2.2" ry="2.7" fill="#F8766D"/>
<ellipse cx="437.28" cy="27.24" rx="2.2" ry="2.7" fill="#F8766D"/>
<ellipse cx="437.46" cy="31.99" rx="2.2" ry="2.7" fill="#F8766D"/>
<ellipse cx="437.64" cy="30.09" rx="2.2" ry="2.7" fill="#F8766D"/>
<ellipse cx="437.82" cy="29.22" rx="2.2" ry="2.7" fill="#F8766D"/>
<ellipse cx="438" cy="27.97" rx="2.2" ry="2.7" fill="#F8766D"/>
<ellipse cx="438.18" cy="30.4" rx="2.2" ry="2.7" fill="#F8766D"/>
<ellipse cx="438.36" cy="28.6" rx="2.2" ry="2.7" fill="#F8766D"/>
<ellipse cx="438.54" cy="28.63" rx="2.2" ry="2.7" fill="#F8766D"/>
<ellipse cx="438.72" cy="27.25" rx="2.2" ry="2.7" fill="#F8766D"/>
<ellipse cx="438.9" cy="30.5" rx="2.2" ry="2.7" fill="#F8766D"/>
<ellipse cx="439.08" cy="30.51" rx="2.2" ry="2.7" fill="#F8766D"/>
<ellipse cx="439.26" cy="30.4" rx="2.2" ry="2.7" fill="#F8766D"/>
<ellipse cx="439.44" cy="25.92" rx="2.2" ry="2.7" fill="#F8766D"/>
<ellipse cx="439.61" cy="27.1" rx="2.2" ry="2.7" fill="#F8766D"/>
<ellipse cx="439.79" cy="29.26" rx="2.2" ry="2.7" fill="#F8766D"/>
<ellipse cx="439.97" cy="28.64" rx="2.2" ry="2.7" fill="#F8766D"/>
<ellipse cx="440.15" cy="28.84" rx="2.2" ry="2.7" fill="#F8766D"/>
<ellipse cx="440.33" cy="28.68" rx="2.2" ry="2.7" fill="#F8766D"/>
<ellipse cx="440.51" cy="29.41" rx="2.2" ry="2.7" fill="#F8766D"/>
<ellipse cx="440.69" cy="29.63" rx="2.2" ry="2.7" fill="#F8766D"/>
<ellipse cx="440.87" cy="31.27" rx="2.2" ry="2.7" fill="#F8766D"/>
<ellipse cx="441.05" cy="30.18" rx="2.2" ry="2.7" fill="#F8766D"/>
<ellipse cx="441.23" cy="26.1" rx="2.2" ry="2.7" fill="#F8766D"/>
<ellipse cx="441.41" cy="28.08" rx="2.2" ry="2.7" fill="#F8766D"/>
<ellipse cx="441.59" cy="28.92" rx="2.2" ry="2.7" fill="#F8766D"/>
<ellipse cx="441.77" cy="29.42" rx="2.2" ry="2.7" fill="#F8766D"/>
<ellipse cx="441.95" cy="28.93" rx="2.2" ry="2.7" fill="#F8766D"/>
<ellipse cx="442.12" cy="28.41" rx="2.2" ry="2.7" fill="#F8766D"/>
<ellipse cx="442.3" cy="30.19" rx="2.2" ry="2.7" fill="#F8766D"/>
<ellipse cx="442.48" cy="28.69" rx="2.2" ry="2.7" fill="#F8766D"/>
<ellipse cx="442.66" cy="28.61" rx="2.2" ry="2.7" fill="#F8766D"/>
<ellipse cx="442.84" cy="30.37" rx="2.2" ry="2.7" fill="#F8766D"/>
<ellipse cx="443.02" cy="30.44" rx="2.2" ry="2.7" fill="#F8766D"/>
<path d="M443.2 231.63L445.95 237.78L440.45 237.78Z" fill="#64B200"/>
<path d="M443.38 231.76L446.13 237.91L440.63 237.91Z" fill="#64B200"/>
<path d="M443.56 227.71L446.31 233.86L440.81 233.86Z" fill="#64B200"/>
<path d="M443.74 230.11L446.49 236.26L440.99 236.26Z" fill="#64B200"/>
<path d="M443.92 230.82L446.67 236.97L441.17 236.97Z" fill="#64B200"/>
<path d="M444.1 230.84L446.85 236.99L441.35 236.99Z" fill="#64B200"/>
<path d="M444.28 229.35L447.03 235.5L441.53 235.5Z" fill="#64B200"/>
<path d="M444.46 227.21L447.21 233.36L441.71 233.36Z" fill="#64B200"/>
<path d="M444.64 229.4L447.39 235.55L441.89 235.55Z" fill="#64B200"/>
<path d="M444.81 229.85L447.56 236L442.06 236Z" fill="#64B200"/>
<path d="M444.99 230.83L447.74 236.98L442.24 236.98Z" fill="#64B200"/>
<path d="M445.17 229.82L447.92 235.97L442.42 235.97Z" fill="#64B200"/>
<path d="M445.35 227.66L448.1 233.81L442.6 233.81Z" fill="#64B200"/>
<path d="M445.53 230.37L448.28 236.52L442.78 236.52Z" fill="#64B200"/>
<path d="M445.71 231.93L448.46 238.08L442.96 238.08Z" fill="#64B200"/>
<path d="M445.89 232.18L448.64 238.33L443.14 238.33Z" fill="#64B200"/>
<path d="M446.07 231.85L448.82 238L443.32 238Z" fill="#64B200"/>
<path d="M446.25 232.44L449 238.59L443.5 238.59Z" fill="#64B200"/>
<path d="M446.43 227.27L449.18 233.42L443.68 233.42Z" fill="#64B200"/>
<path d="M446.61 228.82L449.36 234.97L443.86 234.97Z" fill="#64B200"/>
<path d="M446.79 230.05L449.54 236.2L444.04 236.2Z" fill="#64B200"/>
<path d="M446.97 226.53L449.72 232.68L444.22 232.68Z" fill="#64B200"/>
<path d="M447.15 230.92L449.9 237.07L444.4 237.07Z" fill="#64B200"/>
<path d="M447.32 227.99L450.07 234.14L444.57 234.14Z" fill="#64B200"/>
<path d="M447.5 227.89L450.25 234.04L444.75 234.04Z" fill="#64B200"/>
<path d="M447.68 232.76L450.43 238.91L444.93 238.91Z" fill="#64B200"/>
<path d="M447.86 232.78L450.61 238.93L445.11 238.93Z" fill="#64B200"/>
<path d="M448.04 231.48L450.79 237.63L445.29 237.63Z" fill="#64B200"/>
<path d="M448.22 227.67L450.97 233.82L445.47 233.82Z" fill="#64B200"/>
<path d="M448.4 226.87L451.15 233.02L445.65 233.02Z" fill="#64B200"/>
<path d="M448.58 232.1L451.33 238.25L445.83 238.25Z" fill="#64B200"/>
<path d="M448.76 227.38L451.51 233.53L446.01 233.53Z" fill="#64B200"/>
<path d="M448.94 230.35L451.69 236.5L446.19 236.5Z" fill="#64B200"/>
<path d="M449.12 230.37L451.87 236.52L446.37 236.52Z" fill="#64B200"/>
<path d="M449.3 230.7L452.05 236.85L446.55 236.85Z" fill="#64B200"/>
<path d="M449.48 230.23L452.23 236.38L446.73 236.38Z" fill="#64B200"/>
<path d="M449.66 231.63L452.41 237.78L446.91 237.78Z" fill="#64B200"/>
<path d="M449.83 232.12L452.58 238.27L447.08 238.27Z" fill="#64B200"/>
<path d="M450.01 228.54L452.76 234.69L447.26 234.69Z" fill="#64B200"/>
<path d="M450.19 230.25L452.94 236.4L447.44 236.4Z" fill="#64B200"/>
<path d="M450.37 233.13L453.12 239.28L447.62 239.28Z" fill="#64B200"/>
<path d="M450.5 223.8L453.25 229.95L447.75 229.95Z" fill="#64B200"/>
<path d="M450.73 230.4L453.48 236.55L447.98 236.55Z" fill="#64B200"/>
<path d="M450.91 231.5L453.66 237.65L448.16 237.65Z" fill="#64B200"/>
<path d="M451.09 228.37L453.84 234.52L448.34 234.52Z" fill="#64B200"/>
<path d="M451.27 231.07L454.02 237.22L448.52 237.22Z" fill="#64B200"/>
<path d="M451.45 227.61L454.2 233.76L448.7 233.76Z" fill="#64B200"/>
<path d="M451.63 228.44L454.38 234.59L448.88 234.59Z" fill="#64B200"/>
<path d="M451.81 232.93L454.56 239.08L449.06 239.08Z" fill="#64B200"/>
<path d="M451.99 230.66L454.74 236.81L449.24 236.81Z" fill="#64B200"/>
<path d="M452.17 230.05L454.92 236.2L449.42 236.2Z" fill="#64B200"/>
<path d="M452.35 229.52L455.1 235.67L449.6 235.67Z" fill="#64B200"/>
<path d="M452.52 229.28L455.27 235.43L449.77 235.43Z" fill="#64B200"/>
<path d="M452.7 230.26L455.45 236.41L449.95 236.41Z" fill="#64B200"/>
<path d="M452.88 229.16L455.63 235.31L450.13 235.31Z" fill="#64B200"/>
<path d="M453.06 230.77L455.81 236.92L450.31 236.92Z" fill="#64B200"/>
<path d="M453.24 231.41L455.99 237.56L450.49 237.56Z" fill="#64B200"/>
<path d="M453.42 226.41L456.17 232.56L450.67 232.56Z" fill="#64B200"/>
<path d="M453.6 228.81L456.35 234.96L450.85 234.96Z" fill="#64B200"/>
<path d="M453.78 228.65L456.53 234.8L451.03 234.8Z" fill="#64B200"/>
<path d="M453.96 232.86L456.71 239.01L451.21 239.01Z" fill="#64B200"/>
<path d="M454.14 229.9L456.89 236.05L451.39 236.05Z" fill="#64B200"/>
<path d="M454.32 227.85L457.07 234L451.57 234Z" fill="#64B200"/>
<path d="M454.5 232.23L457.25 238.38L451.75 238.38Z" fill="#64B200"/>
<path d="M454.68 227.28L457.43 233.43L451.93 233.43Z" fill="#64B200"/>
<path d="M454.86 230.36L457.61 236.51L452.11 236.51Z" fill="#64B200"/>
<path d="M455.03 228.72L457.78 234.87L452.28 234.87Z" fill="#64B200"/>
<path d="M455.21 229.83L457.96 235.98L452.46 235.98Z" fill="#64B200"/>
<path d="M455.39 229.1L458.14 235.25L452.64 235.25Z" fill="#64B200"/>
<path d="M455.57 227.06L458.32 233.21L452.82 233.21Z" fill="#64B200"/>
<path d="M455.75 230.39L458.5 236.54L453 236.54Z" fill="#64B200"/>
<path d="M455.93 226.31L458.68 232.46L453.18 232.46Z" fill="#64B200"/>
<path d="M456.11 231.18L458.86 237.33L453.36 237.33Z" fill="#64B200"/>
<path d="M456.29 231.49L459.04 237.64L453.54 237.64Z" fill="#64B200"/>
<path d="M456.47 228.08L459.22 234.23L453.72 234.23Z" fill="#64B200"/>
<path d="M456.65 231.77L459.4 237.92L453.9 237.92Z" fill="#64B200"/>
<path d="M456.83 230.32L459.58 236.47L454.08 236.47Z" fill="#64B200"/>
<path d="M457.01 227.67L459.76 233.82L454.26 233.82Z" fill="#64B200"/>
<path d="M457.19 227.04L459.94 233.19L454.44 233.19Z" fill="#64B200"/>
<path d="M457.37 233.24L460.12 239.39L454.62 239.39Z" fill="#64B200"/>
<path d="M457.54 228.5L460.29 234.65L454.79 234.65Z" fill="#64B200"/>
<path d="M457.72 227.08L460.47 233.23L454.97 233.23Z" fill="#64B200"/>
<path d="M457.9 234.2L460.65 240.35L455.15 240.35Z" fill="#64B200"/>
<path d="M458.08 230.05L460.83 236.2L455.33 236.2Z" fill="#64B200"/>
<path d="M458.26 230.8L461.01 236.95L455.51 236.95Z" fill="#64B200"/>
<path d="M458.44 230.17L461.19 236.32L455.69 236.32Z" fill="#64B200"/>
<path d="M458.62 231.95L461.37 238.1L455.87 238.1Z" fill="#64B200"/>
<path d="M458.8 230.1L461.55 236.25L456.05 236.25Z" fill="#64B200"/>
<path d="M458.98 227.47L461.73 233.62L456.23 233.62Z" fill="#00BD5C"/>
<path d="M459.16 227.39L461.91 233.54L456.41 233.54Z" fill="#00BD5C"/>
<path d="M459.34 224.83L462.09 230.98L456.59 230.98Z" fill="#00BD5C"/>
<path d="M459.52 227.55L462.27 233.7L456.77 233.7Z" fill="#00BD5C"/>
<path d="M459.7 229.92L462.45 236.07L456.95 236.07Z" fill="#00BD5C"/>
<path d="M459.88 225.08L462.63 231.23L457.13 231.23Z" fill="#00BD5C"/>
<path d="M460.06 229.18L462.81 235.33L457.31 235.33Z" fill="#00BD5C"/>
<path d="M460.23 227.97L462.98 234.12L457.48 234.12Z" fill="#00BD5C"/>
<path d="M460.41 227.37L463.16 233.52L457.66 233.52Z" fill="#00BD5C"/>
<path d="M460.59 227.77L463.34 233.92L457.84 233.92Z" fill="#00BD5C"/>
<path d="M460.77 229.04L463.52 235.19L458.02 235.19Z" fill="#00BD5C"/>
<path d="M460.95 227.59L463.7 233.74L458.2 233.74Z" fill="#00BD5C"/>
<path d="M461.13 228.28L463.88 234.43L458.38 234.43Z" fill="#00BD5C"/>
<path d="M461.31 227.37L464.06 233.52L458.56 233.52Z" fill="#00BD5C"/>
<path d="M461.49 224.94L464.24 231.09L458.74 231.09Z" fill="#00BD5C"/>
<path d="M461.67 225.67L464.42 231.82L458.92 231.82Z" fill="#00BD5C"/>
<path d="M461.85 225.64L464.6 231.79L459.1 231.79Z" fill="#00BD5C"/>
<path d="M462.03 225.45L464.78 231.6L459.28 231.6Z" fill="#00BD5C"/>
<path d="M462.21 230.9L464.96 237.05L459.46 237.05Z" fill="#00BD5C"/>
<path d="M462.39 228.77L465.14 234.92L459.64 234.92Z" fill="#00BD5C"/>
<path d="M462.57 226.86L465.32 233.01L459.82 233.01Z" fill="#00BD5C"/>
<path d="M462.74 226.15L465.49 232.3L459.99 232.3Z" fill="#00BD5C"/>
<path d="M462.92 224.62L465.67 230.77L460.17 230.77Z" fill="#00BD5C"/>
<path d="M463.1 226.2L465.85 232.35L460.35 232.35Z" fill="#00BD5C"/>
<path d="M463.28 227.57L466.03 233.72L460.53 233.72Z" fill="#00BD5C"/>
<path d="M463.46 227.03L466.21 233.18L460.71 233.18Z" fill="#00BD5C"/>
<path d="M463.64 227.52L466.39 233.67L460.89 233.67Z" fill="#00BD5C"/>
<path d="M463.82 226.63L466.57 232.78L461.07 232.78Z" fill="#00BD5C"/>
<path d="M464 225.81L466.75 231.96L461.25 231.96Z" fill="#00BD5C"/>
<path d="M464.18 227.76L466.93 233.91L461.43 233.91Z" fill="#00BD5C"/>
<path d="M464.36 228.68L467.11 234.83L461.61 234.83Z" fill="#00BD5C"/>
<path d="M464.54 228.76L467.29 234.91L461.79 234.91Z" fill="#00BD5C"/>
<path d="M464.72 225L467.47 231.15L461.97 231.15Z" fill="#00BD5C"/>
<path d="M464.9 224.64L467.65 230.79L462.15 230.79Z" fill="#00BD5C"/>
<path d="M465.08 225.2L467.83 231.35L462.33 231.35Z" fill="#00BD5C"/>
<path d="M465.25 225.46L468 231.61L462.5 231.61Z" fill="#00BD5C"/>
<path d="M465.43 225.5L468.18 231.65L462.68 231.65Z" fill="#00BD5C"/>
<path d="M465.61 227.11L468.36 233.26L462.86 233.26Z" fill="#00BD5C"/>
<path d="M465.79 225.83L468.54 231.98L463.04 231.98Z" fill="#00BD5C"/>
<path d="M465.97 229.14L468.72 235.29L463.22 235.29Z" fill="#00BD5C"/>
<path d="M466.15 227.5L468.9 233.65L463.4 233.65Z" fill="#00BD5C"/>
<path d="M466.33 228.52L469.08 234.67L463.58 234.67Z" fill="#00BD5C"/>
<path d="M466.5 223L469.25 229.15L463.75 229.15Z" fill="#00BD5C"/>
<path d="M466.69 225.71L469.44 231.86L463.94 231.86Z" fill="#00BD5C"/>
<path d="M466.87 228.23L469.62 234.38L464.12 234.38Z" fill="#00BD5C"/>
<path d="M467.05 227.32L469.8 233.47L464.3 233.47Z" fill="#00BD5C"/>
<path d="M467.23 226.34L469.98 232.49L464.48 232.49Z" fill="#00BD5C"/>
<path d="M467.41 224.5L470.16 230.65L464.66 230.65Z" fill="#00BD5C"/>
<path d="M467.59 228.63L470.34 234.78L464.84 234.78Z" fill="#00BD5C"/>
<path d="M467.76 228.92L470.51 235.07L465.01 235.07Z" fill="#00BD5C"/>
<path d="M467.94 225.53L470.69 231.68L465.19 231.68Z" fill="#00BD5C"/>
<path d="M468.12 229.24L470.87 235.39L465.37 235.39Z" fill="#00BD5C"/>
<path d="M468.3 226.24L471.05 232.39L465.55 232.39Z" fill="#00BD5C"/>
<path d="M468.48 228.21L471.23 234.36L465.73 234.36Z" fill="#00BD5C"/>
<path d="M468.66 227.31L471.41 233.46L465.91 233.46Z" fill="#00BD5C"/>
<path d="M468.84 230.62L471.59 236.77L466.09 236.77Z" fill="#00BD5C"/>
<path d="M469.02 225.73L471.77 231.88L466.27 231.88Z" fill="#00BD5C"/>
<path d="M469.2 228.07L471.95 234.22L466.45 234.22Z" fill="#00BD5C"/>
<path d="M469.38 228.84L472.13 234.99L466.63 234.99Z" fill="#00BD5C"/>
<path d="M469.56 225.74L472.31 231.89L466.81 231.89Z" fill="#00BD5C"/>
<path d="M469.74 226.32L472.49 232.47L466.99 232.47Z" fill="#00BD5C"/>
<path d="M469.92 227.78L472.67 233.93L467.17 233.93Z" fill="#00BD5C"/>
<path d="M470.1 226.9L472.85 233.05L467.35 233.05Z" fill="#00BD5C"/>
<path d="M470.28 224.01L473.03 230.16L467.53 230.16Z" fill="#00BD5C"/>
<path d="M470.45 227.16L473.2 233.31L467.7 233.31Z" fill="#00BD5C"/>
<path d="M470.63 226.24L473.38 232.39L467.88 232.39Z" fill="#00BD5C"/>
<path d="M470.81 226.11L473.56 232.26L468.06 232.26Z" fill="#00BD5C"/>
<path d="M470.99 228.86L473.74 235.01L468.24 235.01Z" fill="#00BD5C"/>
<path d="M471.17 226.86L473.92 233.01L468.42 233.01Z" fill="#00BD5C"/>
<path d="M471.35 228.08L474.1 234.23L468.6 234.23Z" fill="#00BD5C"/>
<path d="M471.53 229.51L474.28 235.66L468.78 235.66Z" fill="#00BD5C"/>
<path d="M471.71 225.43L474.46 231.58L468.96 231.58Z" fill="#00BD5C"/>
<path d="M471.89 225.83L474.64 231.98L469.14 231.98Z" fill="#00BD5C"/>
<path d="M472.07 226.97L474.82 233.12L469.32 233.12Z" fill="#00BD5C"/>
<path d="M472.25 228.86L475 235.01L469.5 235.01Z" fill="#00BD5C"/>
<path d="M472.43 230.97L475.18 237.12L469.68 237.12Z" fill="#00BD5C"/>
<path d="M472.61 226.17L475.36 232.32L469.86 232.32Z" fill="#00BD5C"/>
<path d="M472.79 227.3L475.54 233.45L470.04 233.45Z" fill="#00BD5C"/>
<path d="M472.96 230.35L475.71 236.5L470.21 236.5Z" fill="#00BD5C"/>
<path d="M473.14 227.23L475.89 233.38L470.39 233.38Z" fill="#00BD5C"/>
<path d="M473.32 230.04L476.07 236.19L470.57 236.19Z" fill="#00BD5C"/>
<path d="M473.5 227.16L476.25 233.31L470.75 233.31Z" fill="#00BD5C"/>
<path d="M473.68 226.83L476.43 232.98L470.93 232.98Z" fill="#00BD5C"/>
<path d="M473.86 226.43L476.61 232.58L471.11 232.58Z" fill="#00BD5C"/>
<path d="M474.04 226.69L476.79 232.84L471.29 232.84Z" fill="#00BD5C"/>
<path d="M474.22 226.78L476.97 232.93L471.47 232.93Z" fill="#00BD5C"/>
<path d="M474.4 229.31L477.15 235.46L471.65 235.46Z" fill="#00BD5C"/>
<path d="M474.58 227.85L477.33 234L471.83 234Z" fill="#00BD5C"/>
<path d="M474.76 228.09L477.51 234.24L472.01 234.24Z" fill="#00BD5C"/>
<path d="M474.94 227.56L477.69 233.71L472.19 233.71Z" fill="#00BD5C"/>
<path d="M475.12 226.59L477.87 232.74L472.37 232.74Z" fill="#00BD5C"/>
<path d="M475.3 225.92L478.05 232.07L472.55 232.07Z" fill="#00BD5C"/>
<path d="M475.47 223.96L478.22 230.11L472.72 230.11Z" fill="#00BD5C"/>
<path d="M475.65 226.34L478.4 232.49L472.9 232.49Z" fill="#00BD5C"/>
<path d="M475.83 227.49L478.58 233.64L473.08 233.64Z" fill="#00BD5C"/>
<path d="M476.01 225.31L478.76 231.46L473.26 231.46Z" fill="#00BD5C"/>
<path d="M476.19 230.29L478.94 236.44L473.44 236.44Z" fill="#00BD5C"/>
<path d="M476.37 226.34L479.12 232.49L473.62 232.49Z" fill="#00BD5C"/>
<path d="M476.55 228.11L479.3 234.26L473.8 234.26Z" fill="#00BD5C"/>
<path d="M476.73 225.19L479.48 231.34L473.98 231.34Z" fill="#00BD5C"/>
<path d="M476.91 229.14L479.66 235.29L474.16 235.29Z" fill="#00BD5C"/>
<path d="M477.09 227.31L479.84 233.46L474.34 233.46Z" fill="#00BD5C"/>
<path d="M477.27 227.36L480.02 233.51L474.52 233.51Z" fill="#00BD5C"/>
<path d="M477.45 227.3L480.2 233.45L474.7 233.45Z" fill="#00BD5C"/>
<path d="M477.63 228.23L480.38 234.38L474.88 234.38Z" fill="#00BD5C"/>
<path d="M477.81 230.65L480.56 236.8L475.06 236.8Z" fill="#00BD5C"/>
<path d="M478 222.4L480.75 228.55L475.25 228.55Z" fill="#00BD5C"/>
<path d="M478.16 226.22L480.91 232.37L475.41 232.37Z" fill="#00BD5C"/>
<path d="M478.34 225.18L481.09 231.33L475.59 231.33Z" fill="#00BD5C"/>
<path d="M478.52 227.24L481.27 233.39L475.77 233.39Z" fill="#00BD5C"/>
<path d="M478.7 229.07L481.45 235.22L475.95 235.22Z" fill="#00BD5C"/>
<path d="M478.88 226.72L481.63 232.87L476.13 232.87Z" fill="#00BD5C"/>
<path d="M479.06 226.02L481.81 232.17L476.31 232.17Z" fill="#00BD5C"/>
<path d="M479.24 227.45L481.99 233.6L476.49 233.6Z" fill="#00BD5C"/>
<path d="M479.42 227.14L482.17 233.29L476.67 233.29Z" fill="#00BD5C"/>
<path d="M479.6 224.4L482.35 230.55L476.85 230.55Z" fill="#00BD5C"/>
<path d="M479.78 229.26L482.53 235.41L477.03 235.41Z" fill="#00BD5C"/>
<path d="M479.96 228.18L482.71 234.33L477.21 234.33Z" fill="#00BD5C"/>
<path d="M480.14 230.78L482.89 236.93L477.39 236.93Z" fill="#00BD5C"/>
<path d="M480.32 228.46L483.07 234.61L477.57 234.61Z" fill="#00BD5C"/>
<path d="M480.5 228.53L483.25 234.68L477.75 234.68Z" fill="#00BD5C"/>
<path d="M480.67 228.96L483.42 235.11L477.92 235.11Z" fill="#00BD5C"/>
<path d="M480.85 228.45L483.6 234.6L478.1 234.6Z" fill="#00BD5C"/>
<path d="M481.03 223.65L483.78 229.8L478.28 229.8Z" fill="#00BD5C"/>
<path d="M481.21 227.49L483.96 233.64L478.46 233.64Z" fill="#00BD5C"/>
<path d="M481.39 227.33L484.14 233.48L478.64 233.48Z" fill="#00BD5C"/>
<path d="M481.57 227.23L484.32 233.38L478.82 233.38Z" fill="#00BD5C"/>
<path d="M481.75 230.45L484.5 236.6L479 236.6Z" fill="#00BD5C"/>
<path d="M481.93 226.33L484.68 232.48L479.18 232.48Z" fill="#00BD5C"/>
<path d="M482.11 228.91L484.86 235.06L479.36 235.06Z" fill="#00BD5C"/>
<path d="M482.29 223.95L485.04 230.1L479.54 230.1Z" fill="#00BD5C"/>
<path d="M482.47 229.51L485.22 235.66L479.72 235.66Z" fill="#00BD5C"/>
<path d="M482.65 228.23L485.4 234.38L479.9 234.38Z" fill="#00BD5C"/>
<path d="M482.83 230.2L485.58 236.35L480.08 236.35Z" fill="#00BD5C"/>
<path d="M483.01 226.92L485.76 233.07L480.26 233.07Z" fill="#00BD5C"/>
<path d="M483.18 229.07L485.93 235.22L480.43 235.22Z" fill="#00BD5C"/>
<path d="M483.36 227.24L486.11 233.39L480.61 233.39Z" fill="#00BD5C"/>
<path d="M483.54 227.84L486.29 233.99L480.79 233.99Z" fill="#00BD5C"/>
<path d="M483.72 228.29L486.47 234.44L480.97 234.44Z" fill="#00BD5C"/>
<path d="M483.9 225.29L486.65 231.44L481.15 231.44Z" fill="#00BD5C"/>
<path d="M484.08 225.31L486.83 231.46L481.33 231.46Z" fill="#00BD5C"/>
<path d="M484.26 226.99L487.01 233.14L481.51 233.14Z" fill="#00BD5C"/>
<path d="M484.44 228.84L487.19 234.99L481.69 234.99Z" fill="#00BD5C"/>
<path d="M484.62 229.17L487.37 235.32L481.87 235.32Z" fill="#00BD5C"/>
<path d="M484.8 226.59L487.55 232.74L482.05 232.74Z" fill="#00BD5C"/>
<path d="M484.98 227.99L487.73 234.14L482.23 234.14Z" fill="#00BD5C"/>
<path d="M485.16 228.62L487.91 234.77L482.41 234.77Z" fill="#00BD5C"/>
<path d="M485.34 228.45L488.09 234.6L482.59 234.6Z" fill="#00BD5C"/>
<path d="M485.52 229.22L488.27 235.37L482.77 235.37Z" fill="#00BD5C"/>
<path d="M485.69 228.98L488.44 235.13L482.94 235.13Z" fill="#00BD5C"/>
<path d="M485.87 227.5L488.62 233.65L483.12 233.65Z" fill="#00BD5C"/>
<path d="M486.05 224.35L488.8 230.5L483.3 230.5Z" fill="#00BD5C"/>
<path d="M486.23 227.11L488.98 233.26L483.48 233.26Z" fill="#00BD5C"/>
<path d="M486.41 228.09L489.16 234.24L483.66 234.24Z" fill="#00BD5C"/>
<path d="M486.59 230.22L489.34 236.37L483.84 236.37Z" fill="#00BD5C"/>
<path d="M486.77 226.7L489.52 232.85L484.02 232.85Z" fill="#00BD5C"/>
<path d="M487 222.6L489.75 228.75L484.25 228.75Z" fill="#00BD5C"/>
<path d="M487.13 227.16L489.88 233.31L484.38 233.31Z" fill="#00BD5C"/>
<path d="M487.31 229.47L490.06 235.62L484.56 235.62Z" fill="#00BD5C"/>
<path d="M487.49 229.2L490.24 235.35L484.74 235.35Z" fill="#00BD5C"/>
<path d="M487.67 227.19L490.42 233.34L484.92 233.34Z" fill="#00BD5C"/>
<path d="M487.85 225.16L490.6 231.31L485.1 231.31Z" fill="#00BD5C"/>
<path d="M488.03 225.9L490.78 232.05L485.28 232.05Z" fill="#00BD5C"/>
<path d="M488.21 226.71L490.96 232.86L485.46 232.86Z" fill="#00BD5C"/>
<path d="M488.38 227.73L491.13 233.88L485.63 233.88Z" fill="#00BD5C"/>
<rect x="486.61" y="185.33" width="3.9" height="4.7" fill="#00C1A7"/>
<rect x="486.79" y="187.18" width="3.9" height="4.7" fill="#00C1A7"/>
<rect x="486.97" y="193.41" width="3.9" height="4.7" fill="#00C1A7"/>
<rect x="487.15" y="189.16" width="3.9" height="4.7" fill="#00C1A7"/>
<rect x="487.33" y="180.07" width="3.9" height="4.7" fill="#00C1A7"/>
<rect x="487.51" y="188.59" width="3.9" height="4.7" fill="#00C1A7"/>
<rect x="487.69" y="179.2" width="3.9" height="4.7" fill="#00C1A7"/>
<rect x="487.87" y="187.36" width="3.9" height="4.7" fill="#00C1A7"/>
<rect x="488.05" y="186.31" width="3.9" height="4.7" fill="#00C1A7"/>
<rect x="488.23" y="189.17" width="3.9" height="4.7" fill="#00C1A7"/>
<rect x="488.41" y="194.79" width="3.9" height="4.7" fill="#00C1A7"/>
<rect x="488.59" y="192.51" width="3.9" height="4.7" fill="#00C1A7"/>
<rect x="488.77" y="183.53" width="3.9" height="4.7" fill="#00C1A7"/>
<rect x="488.94" y="183.75" width="3.9" height="4.7" fill="#00C1A7"/>
<rect x="489.12" y="181.82" width="3.9" height="4.7" fill="#00C1A7"/>
<rect x="489.3" y="183.95" width="3.9" height="4.7" fill="#00C1A7"/>
<rect x="489.48" y="181.44" width="3.9" height="4.7" fill="#00C1A7"/>
<rect x="489.66" y="188.59" width="3.9" height="4.7" fill="#00C1A7"/>
<rect x="489.84" y="188.36" width="3.9" height="4.7" fill="#00C1A7"/>
<rect x="490.02" y="181.65" width="3.9" height="4.7" fill="#00C1A7"/>
<rect x="490.2" y="189.07" width="3.9" height="4.7" fill="#00C1A7"/>
<rect x="490.38" y="194.51" width="3.9" height="4.7" fill="#00C1A7"/>
<rect x="490.56" y="188.37" width="3.9" height="4.7" fill="#00C1A7"/>
<rect x="490.74" y="190.14" width="3.9" height="4.7" fill="#00C1A7"/>
<rect x="490.92" y="183.71" width="3.9" height="4.7" fill="#00C1A7"/>
<rect x="491.1" y="191.12" width="3.9" height="4.7" fill="#00C1A7"/>
<rect x="491.28" y="193.01" width="3.9" height="4.7" fill="#00C1A7"/>
<rect x="491.45" y="188.96" width="3.9" height="4.7" fill="#00C1A7"/>
<rect x="491.63" y="178.48" width="3.9" height="4.7" fill="#00C1A7"/>
<rect x="491.81" y="187.38" width="3.9" height="4.7" fill="#00C1A7"/>
<rect x="491.99" y="186.22" width="3.9" height="4.7" fill="#00C1A7"/>
<rect x="492.17" y="187.06" width="3.9" height="4.7" fill="#00C1A7"/>
<rect x="492.35" y="185.47" width="3.9" height="4.7" fill="#00C1A7"/>
<rect x="492.53" y="181.96" width="3.9" height="4.7" fill="#00C1A7"/>
<rect x="492.71" y="179.36" width="3.9" height="4.7" fill="#00C1A7"/>
<rect x="492.89" y="196.25" width="3.9" height="4.7" fill="#00C1A7"/>
<rect x="493.07" y="179.55" width="3.9" height="4.7" fill="#00C1A7"/>
<rect x="493.25" y="187.13" width="3.9" height="4.7" fill="#00C1A7"/>
<rect x="493.43" y="188.9" width="3.9" height="4.7" fill="#00C1A7"/>
<rect x="493.61" y="188.06" width="3.9" height="4.7" fill="#00C1A7"/>
<rect x="493.79" y="176.31" width="3.9" height="4.7" fill="#00C1A7"/>
<rect x="494.05" y="172.35" width="3.9" height="4.7" fill="#00C1A7"/>
<rect x="494.14" y="181.74" width="3.9" height="4.7" fill="#00C1A7"/>
<rect x="494.32" y="192.84" width="3.9" height="4.7" fill="#00C1A7"/>
<rect x="494.5" y="184.4" width="3.9" height="4.7" fill="#00C1A7"/>
<rect x="494.68" y="183.02" width="3.9" height="4.7" fill="#00C1A7"/>
<rect x="494.86" y="187.81" width="3.9" height="4.7" fill="#00C1A7"/>
<rect x="495.04" y="189.03" width="3.9" height="4.7" fill="#00C1A7"/>
<rect x="495.22" y="188.18" width="3.9" height="4.7" fill="#00C1A7"/>
<rect x="495.4" y="193.27" width="3.9" height="4.7" fill="#00C1A7"/>
<rect x="495.58" y="176.97" width="3.9" height="4.7" fill="#00C1A7"/>
<rect x="495.76" y="188.47" width="3.9" height="4.7" fill="#00C1A7"/>
<rect x="495.94" y="189.3" width="3.9" height="4.7" fill="#00C1A7"/>
<rect x="496.12" y="188.78" width="3.9" height="4.7" fill="#00C1A7"/>
<rect x="496.3" y="191.47" width="3.9" height="4.7" fill="#00C1A7"/>
<rect x="496.48" y="191.43" width="3.9" height="4.7" fill="#00C1A7"/>
<rect x="496.65" y="186.59" width="3.9" height="4.7" fill="#00C1A7"/>
<rect x="496.83" y="185.37" width="3.9" height="4.7" fill="#00C1A7"/>
<rect x="497.01" y="189.93" width="3.9" height="4.7" fill="#00C1A7"/>
<rect x="497.19" y="187.62" width="3.9" height="4.7" fill="#00C1A7"/>
<rect x="497.37" y="194.84" width="3.9" height="4.7" fill="#00C1A7"/>
<rect x="497.55" y="184.22" width="3.9" height="4.7" fill="#00C1A7"/>
<rect x="497.73" y="191.28" width="3.9" height="4.7" fill="#00C1A7"/>
<rect x="497.91" y="185.92" width="3.9" height="4.7" fill="#00C1A7"/>
<rect x="498.09" y="192.15" width="3.9" height="4.7" fill="#00C1A7"/>
<rect x="498.27" y="189.98" width="3.9" height="4.7" fill="#00C1A7"/>
<rect x="498.45" y="185.92" width="3.9" height="4.7" fill="#00C1A7"/>
<rect x="498.63" y="193.85" width="3.9" height="4.7" fill="#00C1A7"/>
<rect x="498.81" y="187.32" width="3.9" height="4.7" fill="#00C1A7"/>
<rect x="498.99" y="187.52" width="3.9" height="4.7" fill="#00C1A7"/>
<rect x="499.16" y="191.2" width="3.9" height="4.7" fill="#00C1A7"/>
<rect x="499.34" y="178.25" width="3.9" height="4.7" fill="#00C1A7"/>
<rect x="499.52" y="179.41" width="3.9" height="4.7" fill="#00C1A7"/>
<rect x="499.7" y="185.45" width="3.9" height="4.7" fill="#00C1A7"/>
<rect x="499.88" y="194.72" width="3.9" height="4.7" fill="#00C1A7"/>
<rect x="500.06" y="189.92" width="3.9" height="4.7" fill="#00C1A7"/>
<rect x="500.24" y="183.69" width="3.9" height="4.7" fill="#00C1A7"/>
<rect x="500.42" y="189.96" width="3.9" height="4.7" fill="#00C1A7"/>
<rect x="500.6" y="193.7" width="3.9" height="4.7" fill="#00C1A7"/>
<rect x="500.78" y="193.72" width="3.9" height="4.7" fill="#00C1A7"/>
<rect x="500.96" y="191.4" width="3.9" height="4.7" fill="#00C1A7"/>
<rect x="501.14" y="187.04" width="3.9" height="4.7" fill="#00C1A7"/>
<rect x="501.32" y="190.72" width="3.9" height="4.7" fill="#00C1A7"/>
<rect x="501.5" y="187.01" width="3.9" height="4.7" fill="#00C1A7"/>
<rect x="501.67" y="177.26" width="3.9" height="4.7" fill="#00C1A7"/>
<rect x="501.85" y="192.88" width="3.9" height="4.7" fill="#00C1A7"/>
<rect x="502.03" y="185.21" width="3.9" height="4.7" fill="#00C1A7"/>
<rect x="502.21" y="186.63" width="3.9" height="4.7" fill="#00C1A7"/>
<rect x="502.39" y="188.33" width="3.9" height="4.7" fill="#00BADE"/>
<rect x="502.57" y="179.7" width="3.9" height="4.7" fill="#00BADE"/>
<rect x="502.75" y="156.46" width="3.9" height="4.7" fill="#00BADE"/>
<rect x="502.93" y="168.28" width="3.9" height="4.7" fill="#00BADE"/>
<rect x="503.11" y="190.43" width="3.9" height="4.7" fill="#00BADE"/>
<rect x="503.29" y="175.25" width="3.9" height="4.7" fill="#00BADE"/>
<rect x="503.55" y="204.95" width="3.9" height="4.7" fill="#00BADE"/>
<rect x="503.65" y="200.75" width="3.9" height="4.7" fill="#00BADE"/>
<rect x="503.83" y="159.71" width="3.9" height="4.7" fill="#00BADE"/>
<rect x="504.01" y="151.61" width="3.9" height="4.7" fill="#00BADE"/>
<rect x="504.19" y="164.45" width="3.9" height="4.7" fill="#00BADE"/>
<rect x="504.36" y="182.02" width="3.9" height="4.7" fill="#00BADE"/>
<rect x="504.54" y="195.69" width="3.9" height="4.7" fill="#00BADE"/>
<rect x="504.72" y="158.85" width="3.9" height="4.7" fill="#00BADE"/>
<rect x="504.9" y="194.27" width="3.9" height="4.7" fill="#00BADE"/>
<rect x="505.05" y="135.9" width="3.9" height="4.7" fill="#00BADE"/>
<rect x="505.26" y="169.97" width="3.9" height="4.7" fill="#00BADE"/>
<rect x="505.44" y="176.35" width="3.9" height="4.7" fill="#00BADE"/>
<rect x="505.62" y="157.29" width="3.9" height="4.7" fill="#00BADE"/>
<rect x="505.8" y="183.73" width="3.9" height="4.7" fill="#00BADE"/>
<rect x="506.05" y="207.65" width="3.9" height="4.7" fill="#00BADE"/>
<rect x="506.16" y="199.99" width="3.9" height="4.7" fill="#00BADE"/>
<rect x="506.25" y="220.25" width="3.9" height="4.7" fill="#00BADE"/>
<rect x="506.52" y="188.12" width="3.9" height="4.7" fill="#00BADE"/>
<rect x="506.7" y="173.01" width="3.9" height="4.7" fill="#00BADE"/>
<rect x="506.87" y="191.46" width="3.9" height="4.7" fill="#00BADE"/>
<rect x="507.05" y="150.84" width="3.9" height="4.7" fill="#00BADE"/>
<rect x="507.23" y="163.53" width="3.9" height="4.7" fill="#00BADE"/>
<rect x="507.45" y="144.25" width="3.9" height="4.7" fill="#00BADE"/>
<rect x="507.59" y="152.14" width="3.9" height="4.7" fill="#00BADE"/>
<rect x="507.77" y="179.66" width="3.9" height="4.7" fill="#00BADE"/>
<rect x="507.95" y="157.47" width="3.9" height="4.7" fill="#00BADE"/>
<rect x="508.13" y="194.15" width="3.9" height="4.7" fill="#00BADE"/>
<rect x="508.31" y="161.24" width="3.9" height="4.7" fill="#00BADE"/>
<rect x="508.49" y="168.07" width="3.9" height="4.7" fill="#00BADE"/>
<rect x="508.67" y="187.85" width="3.9" height="4.7" fill="#00BADE"/>
<rect x="508.85" y="173.79" width="3.9" height="4.7" fill="#00BADE"/>
<rect x="509.03" y="182.42" width="3.9" height="4.7" fill="#00BADE"/>
<rect x="509.15" y="137.15" width="3.9" height="4.7" fill="#00BADE"/>
<rect x="509.38" y="160.35" width="3.9" height="4.7" fill="#00BADE"/>
<rect x="509.55" y="218.55" width="3.9" height="4.7" fill="#00BADE"/>
<rect x="509.74" y="168.32" width="3.9" height="4.7" fill="#00BADE"/>
<rect x="509.92" y="188.34" width="3.9" height="4.7" fill="#00BADE"/>
<rect x="510.1" y="172.38" width="3.9" height="4.7" fill="#00BADE"/>
<rect x="510.28" y="166.57" width="3.9" height="4.7" fill="#00BADE"/>
<rect x="510.46" y="160.4" width="3.9" height="4.7" fill="#00BADE"/>
<rect x="510.64" y="179.44" width="3.9" height="4.7" fill="#00BADE"/>
<rect x="510.82" y="157.38" width="3.9" height="4.7" fill="#00BADE"/>
<rect x="511" y="185.27" width="3.9" height="4.7" fill="#00BADE"/>
<rect x="511.18" y="187.81" width="3.9" height="4.7" fill="#00BADE"/>
<rect x="511.36" y="176.9" width="3.9" height="4.7" fill="#00BADE"/>
<rect x="511.54" y="165.92" width="3.9" height="4.7" fill="#00BADE"/>
<rect x="511.75" y="210.95" width="3.9" height="4.7" fill="#00BADE"/>
<rect x="511.9" y="150.19" width="3.9" height="4.7" fill="#00BADE"/>
<rect x="512.07" y="174.28" width="3.9" height="4.7" fill="#00BADE"/>
<rect x="512.25" y="220.75" width="3.9" height="4.7" fill="#00BADE"/>
<rect x="512.45" y="145.45" width="3.9" height="4.7" fill="#00BADE"/>
<rect x="512.61" y="153.34" width="3.9" height="4.7" fill="#00BADE"/>
<rect x="512.85" y="135.15" width="3.9" height="4.7" fill="#00BADE"/>
<rect x="512.97" y="169.98" width="3.9" height="4.7" fill="#00BADE"/>
<rect x="513.15" y="184.19" width="3.9" height="4.7" fill="#00BADE"/>
<rect x="513.33" y="187.62" width="3.9" height="4.7" fill="#00BADE"/>
<rect x="513.51" y="180.78" width="3.9" height="4.7" fill="#00BADE"/>
<rect x="513.69" y="155.72" width="3.9" height="4.7" fill="#00BADE"/>
<rect x="513.87" y="150.2" width="3.9" height="4.7" fill="#00BADE"/>
<rect x="514.05" y="169.12" width="3.9" height="4.7" fill="#00BADE"/>
<rect x="514.23" y="176.11" width="3.9" height="4.7" fill="#00BADE"/>
<rect x="514.41" y="164.17" width="3.9" height="4.7" fill="#00BADE"/>
<rect x="514.58" y="160.03" width="3.9" height="4.7" fill="#00BADE"/>
<rect x="514.76" y="159.05" width="3.9" height="4.7" fill="#00BADE"/>
<rect x="514.94" y="173.83" width="3.9" height="4.7" fill="#00BADE"/>
<rect x="515.12" y="187.71" width="3.9" height="4.7" fill="#00BADE"/>
<rect x="515.3" y="168.22" width="3.9" height="4.7" fill="#00BADE"/>
<rect x="515.48" y="169.97" width="3.9" height="4.7" fill="#00BADE"/>
<rect x="515.66" y="150.6" width="3.9" height="4.7" fill="#00BADE"/>
<rect x="515.85" y="231.95" width="3.9" height="4.7" fill="#00BADE"/>
<rect x="516.05" y="198.35" width="3.9" height="4.7" fill="#00BADE"/>
<path d="M515.05 296.92H521.25M518.15 293.57V300.27" stroke="#00A6FF" stroke-width="0.9" fill="none"/>
<path d="M515.3 276.7H521.5M518.4 273.35V280.05" stroke="#00A6FF" stroke-width="0.9" fill="none"/>
<path d="M515.41 294.33H521.61M518.51 290.98V297.68" stroke="#00A6FF" stroke-width="0.9" fill="none"/>
<path d="M515.59 305.05H521.79M518.69 301.7V308.4" stroke="#00A6FF" stroke-width="0.9" fill="none"/>
<path d="M515.77 305.08H521.97M518.87 301.73V308.43" stroke="#00A6FF" stroke-width="0.9" fill="none"/>
<path d="M515.94 312.8H522.14M519.04 309.45V316.15" stroke="#00A6FF" stroke-width="0.9" fill="none"/>
<path d="M516.12 296.05H522.32M519.22 292.7V299.4" stroke="#00A6FF" stroke-width="0.9" fill="none"/>
<path d="M516.3 289.01H522.5M519.4 285.66V292.36" stroke="#00A6FF" stroke-width="0.9" fill="none"/>
<path d="M516.48 306.34H522.68M519.58 302.99V309.69" stroke="#00A6FF" stroke-width="0.9" fill="none"/>
<path d="M516.66 312.2H522.86M519.76 308.85V315.55" stroke="#00A6FF" stroke-width="0.9" fill="none"/>
<path d="M516.84 311.16H523.04M519.94 307.81V314.51" stroke="#00A6FF" stroke-width="0.9" fill="none"/>
<path d="M517.02 304.95H523.22M520.12 301.6V308.3" stroke="#00A6FF" stroke-width="0.9" fill="none"/>
<path d="M517.2 308.69H523.4M520.3 305.34V312.04" stroke="#00A6FF" stroke-width="0.9" fill="none"/>
<path d="M517.38 289.61H523.58M520.48 286.26V292.96" stroke="#00A6FF" stroke-width="0.9" fill="none"/>
<path d="M517.56 315.25H523.76M520.66 311.9V318.6" stroke="#00A6FF" stroke-width="0.9" fill="none"/>
<path d="M517.74 308.23H523.94M520.84 304.88V311.58" stroke="#00A6FF" stroke-width="0.9" fill="none"/>
<path d="M517.92 313.68H524.12M521.02 310.33V317.03" stroke="#00A6FF" stroke-width="0.9" fill="none"/>
<path d="M518.1 298.67H524.3M521.2 295.32V302.02" stroke="#00A6FF" stroke-width="0.9" fill="none"/>
<path d="M518.28 295.07H524.48M521.38 291.72V298.42" stroke="#00A6FF" stroke-width="0.9" fill="none"/>
<path d="M518.45 311.86H524.65M521.55 308.51V315.21" stroke="#00A6FF" stroke-width="0.9" fill="none"/>
<path d="M518.63 315.16H524.83M521.73 311.81V318.51" stroke="#00A6FF" stroke-width="0.9" fill="none"/>
<path d="M518.81 304H525.01M521.91 300.65V307.35" stroke="#00A6FF" stroke-width="0.9" fill="none"/>
<path d="M518.99 300.47H525.19M522.09 297.12V303.82" stroke="#00A6FF" stroke-width="0.9" fill="none"/>
<path d="M519.17 291.31H525.37M522.27 287.96V294.66" stroke="#00A6FF" stroke-width="0.9" fill="none"/>
<path d="M519.3 266.8H525.5M522.4 263.45V270.15" stroke="#00A6FF" stroke-width="0.9" fill="none"/>
<path d="M519.53 315.89H525.73M522.63 312.54V319.24" stroke="#00A6FF" stroke-width="0.9" fill="none"/>
<path d="M519.71 313.86H525.91M522.81 310.51V317.21" stroke="#00A6FF" stroke-width="0.9" fill="none"/>
<path d="M519.89 311.72H526.09M522.99 308.37V315.07" stroke="#00A6FF" stroke-width="0.9" fill="none"/>
<path d="M520.07 310.8H526.27M523.17 307.45V314.15" stroke="#00A6FF" stroke-width="0.9" fill="none"/>
<path d="M520.25 310.29H526.45M523.35 306.94V313.64" stroke="#00A6FF" stroke-width="0.9" fill="none"/>
<path d="M520.43 296.72H526.63M523.53 293.37V300.07" stroke="#00A6FF" stroke-width="0.9" fill="none"/>
<path d="M520.61 300.17H526.81M523.71 296.82V303.52" stroke="#00A6FF" stroke-width="0.9" fill="none"/>
<path d="M520.79 294.58H526.99M523.89 291.23V297.93" stroke="#00A6FF" stroke-width="0.9" fill="none"/>
<path d="M520.97 290.28H527.17M524.07 286.93V293.63" stroke="#00A6FF" stroke-width="0.9" fill="none"/>
<path d="M521.14 296.4H527.34M524.24 293.05V299.75" stroke="#00A6FF" stroke-width="0.9" fill="none"/>
<path d="M521.32 290.51H527.52M524.42 287.16V293.86" stroke="#00A6FF" stroke-width="0.9" fill="none"/>
<path d="M521.5 295.1H527.7M524.6 291.75V298.45" stroke="#00A6FF" stroke-width="0.9" fill="none"/>
<path d="M521.68 302.47H527.88M524.78 299.12V305.82" stroke="#00A6FF" stroke-width="0.9" fill="none"/>
<path d="M521.86 309.77H528.06M524.96 306.42V313.12" stroke="#00A6FF" stroke-width="0.9" fill="none"/>
<path d="M522.04 299.91H528.24M525.14 296.56V303.26" stroke="#00A6FF" stroke-width="0.9" fill="none"/>
<path d="M522.22 301.71H528.42M525.32 298.36V305.06" stroke="#00A6FF" stroke-width="0.9" fill="none"/>
<path d="M522.4 250.6H528.6M525.5 247.25V253.95" stroke="#00A6FF" stroke-width="0.9" fill="none"/>
<path d="M522.58 294.61H528.78M525.68 291.26V297.96" stroke="#00A6FF" stroke-width="0.9" fill="none"/>
<path d="M522.8 258.2H529M525.9 254.85V261.55" stroke="#00A6FF" stroke-width="0.9" fill="none"/>
<path d="M523 322.6H529.2M526.1 319.25V325.95" stroke="#00A6FF" stroke-width="0.9" fill="none"/>
<path d="M523.12 281.7H529.32M526.22 278.35V285.05" stroke="#00A6FF" stroke-width="0.9" fill="none"/>
<path d="M523.3 307.17H529.5M526.4 303.82V310.52" stroke="#00A6FF" stroke-width="0.9" fill="none"/>
<path d="M523.48 301.04H529.68M526.58 297.69V304.39" stroke="#00A6FF" stroke-width="0.9" fill="none"/>
<path d="M523.65 286.84H529.85M526.75 283.49V290.19" stroke="#00A6FF" stroke-width="0.9" fill="none"/>
<path d="M523.83 286.41H530.03M526.93 283.06V289.76" stroke="#00A6FF" stroke-width="0.9" fill="none"/>
<path d="M524.01 297.92H530.21M527.11 294.57V301.27" stroke="#00A6FF" stroke-width="0.9" fill="none"/>
<path d="M524.19 294.96H530.39M527.29 291.61V298.31" stroke="#00A6FF" stroke-width="0.9" fill="none"/>
<path d="M524.37 292.87H530.57M527.47 289.52V296.22" stroke="#00A6FF" stroke-width="0.9" fill="none"/>
<path d="M524.55 281.56H530.75M527.65 278.21V284.91" stroke="#00A6FF" stroke-width="0.9" fill="none"/>
<path d="M524.73 300.17H530.93M527.83 296.82V303.52" stroke="#00A6FF" stroke-width="0.9" fill="none"/>
<path d="M524.91 302.91H531.11M528.01 299.56V306.26" stroke="#00A6FF" stroke-width="0.9" fill="none"/>
<path d="M525.09 288.83H531.29M528.19 285.48V292.18" stroke="#00A6FF" stroke-width="0.9" fill="none"/>
<path d="M525.27 301.93H531.47M528.37 298.58V305.28" stroke="#00A6FF" stroke-width="0.9" fill="none"/>
<path d="M525.45 296.08H531.65M528.55 292.73V299.43" stroke="#00A6FF" stroke-width="0.9" fill="none"/>
<path d="M525.63 283.52H531.83M528.73 280.17V286.87" stroke="#00A6FF" stroke-width="0.9" fill="none"/>
<path d="M525.81 296.16H532.01M528.91 292.81V299.51" stroke="#00A6FF" stroke-width="0.9" fill="none"/>
<path d="M525.99 295.33H532.19M529.09 291.98V298.68" stroke="#00A6FF" stroke-width="0.9" fill="none"/>
<path d="M526.16 294.23H532.36M529.26 290.88V297.58" stroke="#00A6FF" stroke-width="0.9" fill="none"/>
<path d="M526.34 303.17H532.54M529.44 299.82V306.52" stroke="#00A6FF" stroke-width="0.9" fill="none"/>
<path d="M526.52 294.08H532.72M529.62 290.73V297.43" stroke="#00A6FF" stroke-width="0.9" fill="none"/>
<path d="M526.7 291.7H532.9M529.8 288.35V295.05" stroke="#00A6FF" stroke-width="0.9" fill="none"/>
<path d="M526.88 307.76H533.08M529.98 304.41V311.11" stroke="#00A6FF" stroke-width="0.9" fill="none"/>
<path d="M527.06 299.18H533.26M530.16 295.83V302.53" stroke="#00A6FF" stroke-width="0.9" fill="none"/>
<path d="M527.24 298.38H533.44M530.34 295.03V301.73" stroke="#00A6FF" stroke-width="0.9" fill="none"/>
<path d="M527.42 291.46H533.62M530.52 288.11V294.81" stroke="#00A6FF" stroke-width="0.9" fill="none"/>
<path d="M527.6 289.44H533.8M530.7 286.09V292.79" stroke="#00A6FF" stroke-width="0.9" fill="none"/>
<path d="M527.78 296.4H533.98M530.88 293.05V299.75" stroke="#00A6FF" stroke-width="0.9" fill="none"/>
<path d="M527.96 279.02H534.16M531.06 275.67V282.37" stroke="#00A6FF" stroke-width="0.9" fill="none"/>
<path d="M528.14 306.97H534.34M531.24 303.62V310.32" stroke="#00A6FF" stroke-width="0.9" fill="none"/>
<path d="M528.32 296.6H534.52M531.42 293.25V299.95" stroke="#00A6FF" stroke-width="0.9" fill="none"/>
<path d="M528.5 289.02H534.7M531.6 285.67V292.37" stroke="#00A6FF" stroke-width="0.9" fill="none"/>
<path d="M528.67 295.71H534.87M531.77 292.36V299.06" stroke="#00A6FF" stroke-width="0.9" fill="none"/>
<path d="M528.85 299.98H535.05M531.95 296.63V303.33" stroke="#00A6FF" stroke-width="0.9" fill="none"/>
<path d="M529.03 296.43H535.23M532.13 293.08V299.78" stroke="#00A6FF" stroke-width="0.9" fill="none"/>
<path d="M529.21 295.37H535.41M532.31 292.02V298.72" stroke="#00A6FF" stroke-width="0.9" fill="none"/>
<path d="M529.39 295.85H535.59M532.49 292.5V299.2" stroke="#00A6FF" stroke-width="0.9" fill="none"/>
<path d="M529.57 288.59H535.77M532.67 285.24V291.94" stroke="#00A6FF" stroke-width="0.9" fill="none"/>
<path d="M529.75 309.64H535.95M532.85 306.29V312.99" stroke="#00A6FF" stroke-width="0.9" fill="none"/>
<path d="M529.93 319.96H536.13M533.03 316.61V323.31" stroke="#B385FF" stroke-width="0.9" fill="none"/>
<path d="M530.11 320.86H536.31M533.21 317.51V324.21" stroke="#B385FF" stroke-width="0.9" fill="none"/>
<path d="M530.29 320.57H536.49M533.39 317.22V323.92" stroke="#B385FF" stroke-width="0.9" fill="none"/>
<path d="M530.47 317.68H536.67M533.57 314.33V321.03" stroke="#B385FF" stroke-width="0.9" fill="none"/>
<path d="M530.65 318.72H536.85M533.75 315.37V322.07" stroke="#B385FF" stroke-width="0.9" fill="none"/>
<path d="M530.83 319.18H537.03M533.93 315.83V322.53" stroke="#B385FF" stroke-width="0.9" fill="none"/>
<path d="M531.01 319.46H537.21M534.11 316.11V322.81" stroke="#B385FF" stroke-width="0.9" fill="none"/>
<path d="M531.19 323H537.39M534.29 319.65V326.35" stroke="#B385FF" stroke-width="0.9" fill="none"/>
<path d="M531.36 321.92H537.56M534.46 318.57V325.27" stroke="#B385FF" stroke-width="0.9" fill="none"/>
<path d="M531.54 321.2H537.74M534.64 317.85V324.55" stroke="#B385FF" stroke-width="0.9" fill="none"/>
<path d="M531.72 317.54H537.92M534.82 314.19V320.89" stroke="#B385FF" stroke-width="0.9" fill="none"/>
<path d="M531.9 323.4H538.1M535 320.05V326.75" stroke="#B385FF" stroke-width="0.9" fill="none"/>
<path d="M532.08 318.44H538.28M535.18 315.09V321.79" stroke="#B385FF" stroke-width="0.9" fill="none"/>
<path d="M532.26 317.69H538.46M535.36 314.34V321.04" stroke="#B385FF" stroke-width="0.9" fill="none"/>
<path d="M532.44 318.6H538.64M535.54 315.25V321.95" stroke="#B385FF" stroke-width="0.9" fill="none"/>
<path d="M532.62 319.72H538.82M535.72 316.37V323.07" stroke="#B385FF" stroke-width="0.9" fill="none"/>
<path d="M532.8 318.28H539M535.9 314.93V321.63" stroke="#B385FF" stroke-width="0.9" fill="none"/>
<path d="M532.98 321.19H539.18M536.08 317.84V324.54" stroke="#B385FF" stroke-width="0.9" fill="none"/>
<path d="M533.16 320.4H539.36M536.26 317.05V323.75" stroke="#B385FF" stroke-width="0.9" fill="none"/>
<path d="M533.34 319.56H539.54M536.44 316.21V322.91" stroke="#B385FF" stroke-width="0.9" fill="none"/>
<path d="M533.52 321.48H539.72M536.62 318.13V324.83" stroke="#B385FF" stroke-width="0.9" fill="none"/>
<path d="M533.7 320.49H539.9M536.8 317.14V323.84" stroke="#B385FF" stroke-width="0.9" fill="none"/>
<path d="M533.87 319.65H540.07M536.97 316.3V323" stroke="#B385FF" stroke-width="0.9" fill="none"/>
<path d="M534.05 320.88H540.25M537.15 317.53V324.23" stroke="#B385FF" stroke-width="0.9" fill="none"/>
<path d="M534.23 318.53H540.43M537.33 315.18V321.88" stroke="#B385FF" stroke-width="0.9" fill="none"/>
<path d="M534.41 320.59H540.61M537.51 317.24V323.94" stroke="#B385FF" stroke-width="0.9" fill="none"/>
<path d="M534.59 321.75H540.79M537.69 318.4V325.1" stroke="#B385FF" stroke-width="0.9" fill="none"/>
<path d="M534.77 320.55H540.97M537.87 317.2V323.9" stroke="#B385FF" stroke-width="0.9" fill="none"/>
<path d="M534.95 320.96H541.15M538.05 317.61V324.31" stroke="#B385FF" stroke-width="0.9" fill="none"/>
<path d="M535.13 321.68H541.33M538.23 318.33V325.03" stroke="#B385FF" stroke-width="0.9" fill="none"/>
<path d="M535.31 319.13H541.51M538.41 315.78V322.48" stroke="#B385FF" stroke-width="0.9" fill="none"/>
<path d="M535.49 317.25H541.69M538.59 313.9V320.6" stroke="#B385FF" stroke-width="0.9" fill="none"/>
<path d="M535.67 320.88H541.87M538.77 317.53V324.23" stroke="#B385FF" stroke-width="0.9" fill="none"/>
<path d="M535.85 320.4H542.05M538.95 317.05V323.75" stroke="#B385FF" stroke-width="0.9" fill="none"/>
<path d="M536.03 320.46H542.23M539.13 317.11V323.81" stroke="#B385FF" stroke-width="0.9" fill="none"/>
<path d="M536.21 322.09H542.41M539.31 318.74V325.44" stroke="#B385FF" stroke-width="0.9" fill="none"/>
<path d="M536.38 318.46H542.58M539.48 315.11V321.81" stroke="#B385FF" stroke-width="0.9" fill="none"/>
<path d="M536.56 320.09H542.76M539.66 316.74V323.44" stroke="#B385FF" stroke-width="0.9" fill="none"/>
<path d="M536.74 318.16H542.94M539.84 314.81V321.51" stroke="#B385FF" stroke-width="0.9" fill="none"/>
<path d="M536.92 320.48H543.12M540.02 317.13V323.83" stroke="#B385FF" stroke-width="0.9" fill="none"/>
<path d="M537.1 320.19H543.3M540.2 316.84V323.54" stroke="#B385FF" stroke-width="0.9" fill="none"/>
<path d="M537.28 317.33H543.48M540.38 313.98V320.68" stroke="#B385FF" stroke-width="0.9" fill="none"/>
<path d="M537.46 320.41H543.66M540.56 317.06V323.76" stroke="#B385FF" stroke-width="0.9" fill="none"/>
<path d="M537.64 319.65H543.84M540.74 316.3V323" stroke="#B385FF" stroke-width="0.9" fill="none"/>
<path d="M537.82 318.08H544.02M540.92 314.73V321.43" stroke="#B385FF" stroke-width="0.9" fill="none"/>
<path d="M538 320.65H544.2M541.1 317.3V324" stroke="#B385FF" stroke-width="0.9" fill="none"/>
<path d="M538.18 318.72H544.38M541.28 315.37V322.07" stroke="#B385FF" stroke-width="0.9" fill="none"/>
<path d="M538.36 321.58H544.56M541.46 318.23V324.93" stroke="#B385FF" stroke-width="0.9" fill="none"/>
<path d="M538.54 320.59H544.74M541.64 317.24V323.94" stroke="#B385FF" stroke-width="0.9" fill="none"/>
<path d="M538.72 321.1H544.92M541.82 317.75V324.45" stroke="#B385FF" stroke-width="0.9" fill="none"/>
<path d="M538.9 318.86H545.1M542 315.51V322.21" stroke="#B385FF" stroke-width="0.9" fill="none"/>
<path d="M539.07 320.88H545.27M542.17 317.53V324.23" stroke="#B385FF" stroke-width="0.9" fill="none"/>
<path d="M539.25 321.34H545.45M542.35 317.99V324.69" stroke="#B385FF" stroke-width="0.9" fill="none"/>
<path d="M539.43 319.43H545.63M542.53 316.08V322.78" stroke="#B385FF" stroke-width="0.9" fill="none"/>
<path d="M539.61 317.74H545.81M542.71 314.39V321.09" stroke="#B385FF" stroke-width="0.9" fill="none"/>
<path d="M539.79 322.13H545.99M542.89 318.78V325.48" stroke="#B385FF" stroke-width="0.9" fill="none"/>
<path d="M539.97 322.67H546.17M543.07 319.32V326.02" stroke="#B385FF" stroke-width="0.9" fill="none"/>
<path d="M540.15 321.26H546.35M543.25 317.91V324.61" stroke="#B385FF" stroke-width="0.9" fill="none"/>
<path d="M540.33 321.75H546.53M543.43 318.4V325.1" stroke="#B385FF" stroke-width="0.9" fill="none"/>
<path d="M540.51 317.59H546.71M543.61 314.24V320.94" stroke="#B385FF" stroke-width="0.9" fill="none"/>
<path d="M540.69 319.5H546.89M543.79 316.15V322.85" stroke="#B385FF" stroke-width="0.9" fill="none"/>
<path d="M540.87 319.76H547.07M543.97 316.41V323.11" stroke="#B385FF" stroke-width="0.9" fill="none"/>
<path d="M541.05 318.22H547.25M544.15 314.87V321.57" stroke="#B385FF" stroke-width="0.9" fill="none"/>
<path d="M541.23 318.88H547.43M544.33 315.53V322.23" stroke="#B385FF" stroke-width="0.9" fill="none"/>
<path d="M541.41 320.52H547.61M544.51 317.17V323.87" stroke="#B385FF" stroke-width="0.9" fill="none"/>
<path d="M541.58 321.24H547.78M544.68 317.89V324.59" stroke="#B385FF" stroke-width="0.9" fill="none"/>
<path d="M541.76 322.79H547.96M544.86 319.44V326.14" stroke="#B385FF" stroke-width="0.9" fill="none"/>
<path d="M541.94 318.46H548.14M545.04 315.11V321.81" stroke="#B385FF" stroke-width="0.9" fill="none"/>
<path d="M542.12 320.84H548.32M545.22 317.49V324.19" stroke="#B385FF" stroke-width="0.9" fill="none"/>
<path d="M542.3 320.64H548.5M545.4 317.29V323.99" stroke="#B385FF" stroke-width="0.9" fill="none"/>
<path d="M542.48 320.11H548.68M545.58 316.76V323.46" stroke="#B385FF" stroke-width="0.9" fill="none"/>
<path d="M542.66 319.31H548.86M545.76 315.96V322.66" stroke="#B385FF" stroke-width="0.9" fill="none"/>
<path d="M542.84 319.07H549.04M545.94 315.72V322.42" stroke="#B385FF" stroke-width="0.9" fill="none"/>
<path d="M543.02 319.08H549.22M546.12 315.73V322.43" stroke="#B385FF" stroke-width="0.9" fill="none"/>
<path d="M543.2 316.96H549.4M546.3 313.61V320.31" stroke="#B385FF" stroke-width="0.9" fill="none"/>
<path d="M543.38 318.63H549.58M546.48 315.28V321.98" stroke="#B385FF" stroke-width="0.9" fill="none"/>
<path d="M543.56 322H549.76M546.66 318.65V325.35" stroke="#B385FF" stroke-width="0.9" fill="none"/>
<path d="M543.74 319.39H549.94M546.84 316.04V322.74" stroke="#B385FF" stroke-width="0.9" fill="none"/>
<path d="M543.92 321.93H550.12M547.02 318.58V325.28" stroke="#B385FF" stroke-width="0.9" fill="none"/>
<path d="M544.09 322.47H550.29M547.19 319.12V325.82" stroke="#B385FF" stroke-width="0.9" fill="none"/>
<path d="M544.27 319.56H550.47M547.37 316.21V322.91" stroke="#B385FF" stroke-width="0.9" fill="none"/>
<path d="M544.45 321.7H550.65M547.55 318.35V325.05" stroke="#B385FF" stroke-width="0.9" fill="none"/>
<path d="M544.63 321.07H550.83M547.73 317.72V324.42" stroke="#B385FF" stroke-width="0.9" fill="none"/>
<path d="M544.81 318.79H551.01M547.91 315.44V322.14" stroke="#B385FF" stroke-width="0.9" fill="none"/>
<path d="M544.99 318.61H551.19M548.09 315.26V321.96" stroke="#B385FF" stroke-width="0.9" fill="none"/>
<path d="M545.17 320.09H551.37M548.27 316.74V323.44" stroke="#B385FF" stroke-width="0.9" fill="none"/>
<path d="M545.35 321.68H551.55M548.45 318.33V325.03" stroke="#B385FF" stroke-width="0.9" fill="none"/>
<path d="M545.53 319.66H551.73M548.63 316.31V323.01" stroke="#B385FF" stroke-width="0.9" fill="none"/>
<path d="M545.71 322.57H551.91M548.81 319.22V325.92" stroke="#B385FF" stroke-width="0.9" fill="none"/>
<path d="M545.89 320.5H552.09M548.99 317.15V323.85" stroke="#B385FF" stroke-width="0.9" fill="none"/>
<path d="M546.07 297.61H552.27M549.17 294.26V300.96" stroke="#EF67EB" stroke-width="0.9" fill="none"/>
<path d="M546.25 298.47H552.45M549.35 295.12V301.82" stroke="#EF67EB" stroke-width="0.9" fill="none"/>
<path d="M546.4 289.6H552.6M549.5 286.25V292.95" stroke="#EF67EB" stroke-width="0.9" fill="none"/>
<path d="M546.61 295.15H552.81M549.71 291.8V298.5" stroke="#EF67EB" stroke-width="0.9" fill="none"/>
<path d="M546.78 298.02H552.98M549.88 294.67V301.37" stroke="#EF67EB" stroke-width="0.9" fill="none"/>
<path d="M546.96 298.31H553.16M550.06 294.96V301.66" stroke="#EF67EB" stroke-width="0.9" fill="none"/>
<path d="M547.14 299.57H553.34M550.24 296.22V302.92" stroke="#EF67EB" stroke-width="0.9" fill="none"/>
<path d="M547.32 295.07H553.52M550.42 291.72V298.42" stroke="#EF67EB" stroke-width="0.9" fill="none"/>
<path d="M547.5 296.09H553.7M550.6 292.74V299.44" stroke="#EF67EB" stroke-width="0.9" fill="none"/>
<path d="M547.68 302.12H553.88M550.78 298.77V305.47" stroke="#EF67EB" stroke-width="0.9" fill="none"/>
<path d="M547.86 298.48H554.06M550.96 295.13V301.83" stroke="#EF67EB" stroke-width="0.9" fill="none"/>
<path d="M548.04 298.29H554.24M551.14 294.94V301.64" stroke="#EF67EB" stroke-width="0.9" fill="none"/>
<path d="M548.3 283.3H554.5M551.4 279.95V286.65" stroke="#EF67EB" stroke-width="0.9" fill="none"/>
<path d="M548.4 296.68H554.6M551.5 293.33V300.03" stroke="#EF67EB" stroke-width="0.9" fill="none"/>
<path d="M548.58 303.01H554.78M551.68 299.66V306.36" stroke="#EF67EB" stroke-width="0.9" fill="none"/>
<path d="M548.76 299.65H554.96M551.86 296.3V303" stroke="#EF67EB" stroke-width="0.9" fill="none"/>
<path d="M548.94 298.02H555.14M552.04 294.67V301.37" stroke="#EF67EB" stroke-width="0.9" fill="none"/>
<path d="M549.12 298.76H555.32M552.22 295.41V302.11" stroke="#EF67EB" stroke-width="0.9" fill="none"/>
<path d="M549.29 297.28H555.49M552.39 293.93V300.63" stroke="#EF67EB" stroke-width="0.9" fill="none"/>
<path d="M549.47 299.07H555.67M552.57 295.72V302.42" stroke="#EF67EB" stroke-width="0.9" fill="none"/>
<path d="M549.65 301.49H555.85M552.75 298.14V304.84" stroke="#EF67EB" stroke-width="0.9" fill="none"/>
<path d="M549.83 297.71H556.03M552.93 294.36V301.06" stroke="#EF67EB" stroke-width="0.9" fill="none"/>
<path d="M550.01 296.38H556.21M553.11 293.03V299.73" stroke="#EF67EB" stroke-width="0.9" fill="none"/>
<path d="M550.19 298.8H556.39M553.29 295.45V302.15" stroke="#EF67EB" stroke-width="0.9" fill="none"/>
<path d="M550.37 293.76H556.57M553.47 290.41V297.11" stroke="#EF67EB" stroke-width="0.9" fill="none"/>
<path d="M550.55 298.55H556.75M553.65 295.2V301.9" stroke="#EF67EB" stroke-width="0.9" fill="none"/>
<path d="M550.73 296.92H556.93M553.83 293.57V300.27" stroke="#EF67EB" stroke-width="0.9" fill="none"/>
<path d="M550.91 296.23H557.11M554.01 292.88V299.58" stroke="#EF67EB" stroke-width="0.9" fill="none"/>
<path d="M551.09 297.16H557.29M554.19 293.81V300.51" stroke="#EF67EB" stroke-width="0.9" fill="none"/>
<path d="M551.27 293.79H557.47M554.37 290.44V297.14" stroke="#EF67EB" stroke-width="0.9" fill="none"/>
<path d="M551.45 298.06H557.65M554.55 294.71V301.41" stroke="#EF67EB" stroke-width="0.9" fill="none"/>
<path d="M551.63 299.53H557.83M554.73 296.18V302.88" stroke="#EF67EB" stroke-width="0.9" fill="none"/>
<path d="M551.8 295H558M554.9 291.65V298.35" stroke="#EF67EB" stroke-width="0.9" fill="none"/>
<path d="M551.98 298.37H558.18M555.08 295.02V301.72" stroke="#EF67EB" stroke-width="0.9" fill="none"/>
<path d="M552.16 298.62H558.36M555.26 295.27V301.97" stroke="#EF67EB" stroke-width="0.9" fill="none"/>
<path d="M552.4 289.1H558.6M555.5 285.75V292.45" stroke="#EF67EB" stroke-width="0.9" fill="none"/>
<path d="M552.52 296.96H558.72M555.62 293.61V300.31" stroke="#EF67EB" stroke-width="0.9" fill="none"/>
<path d="M552.7 295.86H558.9M555.8 292.51V299.21" stroke="#EF67EB" stroke-width="0.9" fill="none"/>
<path d="M552.88 297.52H559.08M555.98 294.17V300.87" stroke="#EF67EB" stroke-width="0.9" fill="none"/>
<path d="M553.06 294.53H559.26M556.16 291.18V297.88" stroke="#EF67EB" stroke-width="0.9" fill="none"/>
<path d="M553.24 299.17H559.44M556.34 295.82V302.52" stroke="#EF67EB" stroke-width="0.9" fill="none"/>
<path d="M553.42 300.45H559.62M556.52 297.1V303.8" stroke="#EF67EB" stroke-width="0.9" fill="none"/>
<path d="M553.6 298.55H559.8M556.7 295.2V301.9" stroke="#EF67EB" stroke-width="0.9" fill="none"/>
<path d="M553.78 297.81H559.98M556.88 294.46V301.16" stroke="#EF67EB" stroke-width="0.9" fill="none"/>
<path d="M553.96 292.37H560.16M557.06 289.02V295.72" stroke="#EF67EB" stroke-width="0.9" fill="none"/>
<path d="M554.14 297.52H560.34M557.24 294.17V300.87" stroke="#EF67EB" stroke-width="0.9" fill="none"/>
<path d="M554.31 298.38H560.51M557.41 295.03V301.73" stroke="#EF67EB" stroke-width="0.9" fill="none"/>
<path d="M554.49 298.09H560.69M557.59 294.74V301.44" stroke="#EF67EB" stroke-width="0.9" fill="none"/>
<path d="M554.67 296.29H560.87M557.77 292.94V299.64" stroke="#EF67EB" stroke-width="0.9" fill="none"/>
<path d="M554.85 299.24H561.05M557.95 295.89V302.59" stroke="#EF67EB" stroke-width="0.9" fill="none"/>
<path d="M555.03 295.7H561.23M558.13 292.35V299.05" stroke="#EF67EB" stroke-width="0.9" fill="none"/>
<path d="M555.21 298.47H561.41M558.31 295.12V301.82" stroke="#EF67EB" stroke-width="0.9" fill="none"/>
<path d="M555.39 301.78H561.59M558.49 298.43V305.13" stroke="#EF67EB" stroke-width="0.9" fill="none"/>
<path d="M555.57 299.52H561.77M558.67 296.17V302.87" stroke="#EF67EB" stroke-width="0.9" fill="none"/>
<path d="M555.75 295.96H561.95M558.85 292.61V299.31" stroke="#EF67EB" stroke-width="0.9" fill="none"/>
<path d="M555.93 294.19H562.13M559.03 290.84V297.54" stroke="#EF67EB" stroke-width="0.9" fill="none"/>
<path d="M556.11 296.68H562.31M559.21 293.33V300.03" stroke="#EF67EB" stroke-width="0.9" fill="none"/>
<path d="M556.29 296.97H562.49M559.39 293.62V300.32" stroke="#EF67EB" stroke-width="0.9" fill="none"/>
<path d="M556.47 293.94H562.67M559.57 290.59V297.29" stroke="#EF67EB" stroke-width="0.9" fill="none"/>
<path d="M556.7 308.7H562.9M559.8 305.35V312.05" stroke="#EF67EB" stroke-width="0.9" fill="none"/>
<path d="M556.83 293.65H563.03M559.93 290.3V297" stroke="#EF67EB" stroke-width="0.9" fill="none"/>
<path d="M557 298.73H563.2M560.1 295.38V302.08" stroke="#EF67EB" stroke-width="0.9" fill="none"/>
<path d="M557.18 298.69H563.38M560.28 295.34V302.04" stroke="#EF67EB" stroke-width="0.9" fill="none"/>
<path d="M557.36 293.56H563.56M560.46 290.21V296.91" stroke="#EF67EB" stroke-width="0.9" fill="none"/>
<path d="M557.54 297.48H563.74M560.64 294.13V300.83" stroke="#EF67EB" stroke-width="0.9" fill="none"/>
<path d="M557.72 299.89H563.92M560.82 296.54V303.24" stroke="#EF67EB" stroke-width="0.9" fill="none"/>
<path d="M557.9 301.31H564.1M561 297.96V304.66" stroke="#EF67EB" stroke-width="0.9" fill="none"/>
<path d="M558.08 299.91H564.28M561.18 296.56V303.26" stroke="#EF67EB" stroke-width="0.9" fill="none"/>
<path d="M558.26 295.51H564.46M561.36 292.16V298.86" stroke="#EF67EB" stroke-width="0.9" fill="none"/>
<path d="M558.4 307.1H564.6M561.5 303.75V310.45" stroke="#EF67EB" stroke-width="0.9" fill="none"/>
<path d="M558.62 297.1H564.82M561.72 293.75V300.45" stroke="#EF67EB" stroke-width="0.9" fill="none"/>
<path d="M558.8 298.73H565M561.9 295.38V302.08" stroke="#EF67EB" stroke-width="0.9" fill="none"/>
<path d="M558.98 296.98H565.18M562.08 293.63V300.33" stroke="#EF67EB" stroke-width="0.9" fill="none"/>
<path d="M559.16 299.9H565.36M562.26 296.55V303.25" stroke="#EF67EB" stroke-width="0.9" fill="none"/>
<path d="M559.34 295.01H565.54M562.44 291.66V298.36" stroke="#EF67EB" stroke-width="0.9" fill="none"/>
<path d="M559.51 295.79H565.71M562.61 292.44V299.14" stroke="#EF67EB" stroke-width="0.9" fill="none"/>
<path d="M559.69 294.41H565.89M562.79 291.06V297.76" stroke="#EF67EB" stroke-width="0.9" fill="none"/>
<path d="M559.87 297.58H566.07M562.97 294.23V300.93" stroke="#EF67EB" stroke-width="0.9" fill="none"/>
<path d="M560.05 293.84H566.25M563.15 290.49V297.19" stroke="#EF67EB" stroke-width="0.9" fill="none"/>
<path d="M560.23 299.17H566.43M563.33 295.82V302.52" stroke="#EF67EB" stroke-width="0.9" fill="none"/>
<path d="M560.5 288.5H566.7M563.6 285.15V291.85" stroke="#EF67EB" stroke-width="0.9" fill="none"/>
<path d="M560.59 293.96H566.79M563.69 290.61V297.31" stroke="#EF67EB" stroke-width="0.9" fill="none"/>
<path d="M560.77 293.41H566.97M563.87 290.06V296.76" stroke="#EF67EB" stroke-width="0.9" fill="none"/>
<path d="M560.95 296.34H567.15M564.05 292.99V299.69" stroke="#EF67EB" stroke-width="0.9" fill="none"/>
<path d="M561.13 293.13H567.33M564.23 289.78V296.48" stroke="#EF67EB" stroke-width="0.9" fill="none"/>
<path d="M561.31 291.95H567.51M564.41 288.6V295.3" stroke="#EF67EB" stroke-width="0.9" fill="none"/>
<path d="M561.49 299.71H567.69M564.59 296.36V303.06" stroke="#EF67EB" stroke-width="0.9" fill="none"/>
<path d="M561.67 299.05H567.87M564.77 295.7V302.4" stroke="#EF67EB" stroke-width="0.9" fill="none"/>
<path d="M561.85 300.45H568.05M564.95 297.1V303.8" stroke="#EF67EB" stroke-width="0.9" fill="none"/>
<path d="M562.02 295.31H568.22M565.12 291.96V298.66" stroke="#EF67EB" stroke-width="0.9" fill="none"/>
<path d="M562.2 298.95H568.4M565.3 295.6V302.3" stroke="#EF67EB" stroke-width="0.9" fill="none"/>
<path d="M562.38 301.45H568.58M565.48 298.1V304.8" stroke="#EF67EB" stroke-width="0.9" fill="none"/>
<path d="M562.56 297.25H568.76M565.66 293.9V300.6" stroke="#EF67EB" stroke-width="0.9" fill="none"/>
<path d="M562.74 300.36H568.94M565.84 297.01V303.71" stroke="#EF67EB" stroke-width="0.9" fill="none"/>
<path d="M562.92 292.19H569.12M566.02 288.84V295.54" stroke="#EF67EB" stroke-width="0.9" fill="none"/>
<path d="M563.1 297.45H569.3M566.2 294.1V300.8" stroke="#EF67EB" stroke-width="0.9" fill="none"/>
<path d="M563.28 295.6H569.48M566.38 292.25V298.95" stroke="#EF67EB" stroke-width="0.9" fill="none"/>
<path d="M563.46 299.44H569.66M566.56 296.09V302.79" stroke="#EF67EB" stroke-width="0.9" fill="none"/>
<path d="M563.64 300.43H569.84M566.74 297.08V303.78" stroke="#EF67EB" stroke-width="0.9" fill="none"/>
<path d="M563.82 295.89H570.02M566.92 292.54V299.24" stroke="#EF67EB" stroke-width="0.9" fill="none"/>
<path d="M564 294.58H570.2M567.1 291.23V297.93" stroke="#EF67EB" stroke-width="0.9" fill="none"/>
<path d="M564.18 299.11H570.38M567.28 295.76V302.46" stroke="#EF67EB" stroke-width="0.9" fill="none"/>
<path d="M564.36 300.08H570.56M567.46 296.73V303.43" stroke="#EF67EB" stroke-width="0.9" fill="none"/>
<path d="M564.53 297.72H570.73M567.63 294.37V301.07" stroke="#EF67EB" stroke-width="0.9" fill="none"/>
<path d="M564.71 295.35H570.91M567.81 292V298.7" stroke="#EF67EB" stroke-width="0.9" fill="none"/>
<path d="M564.89 298.61H571.09M567.99 295.26V301.96" stroke="#EF67EB" stroke-width="0.9" fill="none"/>
<path d="M565.07 293.24H571.27M568.17 289.89V296.59" stroke="#EF67EB" stroke-width="0.9" fill="none"/>
<path d="M565.25 295.84H571.45M568.35 292.49V299.19" stroke="#EF67EB" stroke-width="0.9" fill="none"/>
<path d="M565.43 293.78H571.63M568.53 290.43V297.13" stroke="#EF67EB" stroke-width="0.9" fill="none"/>
<path d="M565.61 299.82H571.81M568.71 296.47V303.17" stroke="#EF67EB" stroke-width="0.9" fill="none"/>
<path d="M565.79 300.92H571.99M568.89 297.57V304.27" stroke="#EF67EB" stroke-width="0.9" fill="none"/>
<path d="M565.97 299.84H572.17M569.07 296.49V303.19" stroke="#EF67EB" stroke-width="0.9" fill="none"/>
<path d="M566.15 298.49H572.35M569.25 295.14V301.84" stroke="#EF67EB" stroke-width="0.9" fill="none"/>
<path d="M566.33 293.91H572.53M569.43 290.56V297.26" stroke="#EF67EB" stroke-width="0.9" fill="none"/>
<path d="M566.51 296.04H572.71M569.61 292.69V299.39" stroke="#EF67EB" stroke-width="0.9" fill="none"/>
<path d="M566.69 296.7H572.89M569.79 293.35V300.05" stroke="#EF67EB" stroke-width="0.9" fill="none"/>
<path d="M566.87 300.26H573.07M569.97 296.91V303.61" stroke="#EF67EB" stroke-width="0.9" fill="none"/>
<path d="M567.05 296.25H573.25M570.15 292.9V299.6" stroke="#EF67EB" stroke-width="0.9" fill="none"/>
<path d="M567.22 297.97H573.42M570.32 294.62V301.32" stroke="#EF67EB" stroke-width="0.9" fill="none"/>
<path d="M567.4 296.75H573.6M570.5 293.4V300.1" stroke="#EF67EB" stroke-width="0.9" fill="none"/>
<path d="M567.58 298.39H573.78M570.68 295.04V301.74" stroke="#EF67EB" stroke-width="0.9" fill="none"/>
<path d="M567.76 300.35H573.96M570.86 297V303.7" stroke="#EF67EB" stroke-width="0.9" fill="none"/>
<path d="M567.94 297.13H574.14M571.04 293.78V300.48" stroke="#EF67EB" stroke-width="0.9" fill="none"/>
<path d="M568.12 295H574.32M571.22 291.65V298.35" stroke="#EF67EB" stroke-width="0.9" fill="none"/>
<path d="M568.3 298.83H574.5M571.4 295.48V302.18" stroke="#EF67EB" stroke-width="0.9" fill="none"/>
<path d="M568.48 296.09H574.68M571.58 292.74V299.44" stroke="#EF67EB" stroke-width="0.9" fill="none"/>
<path d="M568.66 291.94H574.86M571.76 288.59V295.29" stroke="#EF67EB" stroke-width="0.9" fill="none"/>
<path d="M568.84 294.83H575.04M571.94 291.48V298.18" stroke="#EF67EB" stroke-width="0.9" fill="none"/>
<path d="M569.02 293.42H575.22M572.12 290.07V296.77" stroke="#EF67EB" stroke-width="0.9" fill="none"/>
<path d="M569.2 298.11H575.4M572.3 294.76V301.46" stroke="#EF67EB" stroke-width="0.9" fill="none"/>
<path d="M569.3 289.1H575.5M572.4 285.75V292.45" stroke="#EF67EB" stroke-width="0.9" fill="none"/>
<path d="M569.56 295.42H575.76M572.66 292.07V298.77" stroke="#EF67EB" stroke-width="0.9" fill="none"/>
<path d="M569.73 299.36H575.93M572.83 296.01V302.71" stroke="#EF67EB" stroke-width="0.9" fill="none"/>
<path d="M569.91 296.64H576.11M573.01 293.29V299.99" stroke="#EF67EB" stroke-width="0.9" fill="none"/>
<path d="M570.09 299.06H576.29M573.19 295.71V302.41" stroke="#EF67EB" stroke-width="0.9" fill="none"/>
<path d="M570.27 297.35H576.47M573.37 294V300.7" stroke="#EF67EB" stroke-width="0.9" fill="none"/>
<path d="M570.4 281.1H576.6M573.5 277.75V284.45" stroke="#EF67EB" stroke-width="0.9" fill="none"/>
<path d="M570.63 300.73H576.83M573.73 297.38V304.08" stroke="#EF67EB" stroke-width="0.9" fill="none"/>
<path d="M570.81 296.28H577.01M573.91 292.93V299.63" stroke="#EF67EB" stroke-width="0.9" fill="none"/>
<path d="M570.99 297.97H577.19M574.09 294.62V301.32" stroke="#EF67EB" stroke-width="0.9" fill="none"/>
<path d="M571.17 296.92H577.37M574.27 293.57V300.27" stroke="#EF67EB" stroke-width="0.9" fill="none"/>
<path d="M571.35 298.6H577.55M574.45 295.25V301.95" stroke="#EF67EB" stroke-width="0.9" fill="none"/>
<path d="M571.53 298.81H577.73M574.63 295.46V302.16" stroke="#EF67EB" stroke-width="0.9" fill="none"/>
<path d="M571.71 295.29H577.91M574.81 291.94V298.64" stroke="#EF67EB" stroke-width="0.9" fill="none"/>
<path d="M571.89 297.27H578.09M574.99 293.92V300.62" stroke="#EF67EB" stroke-width="0.9" fill="none"/>
<path d="M572.07 298H578.27M575.17 294.65V301.35" stroke="#EF67EB" stroke-width="0.9" fill="none"/>
<path d="M572.24 295.03H578.44M575.34 291.68V298.38" stroke="#EF67EB" stroke-width="0.9" fill="none"/>
<path d="M572.42 292.05H578.62M575.52 288.7V295.4" stroke="#EF67EB" stroke-width="0.9" fill="none"/>
<path d="M572.6 295.11H578.8M575.7 291.76V298.46" stroke="#EF67EB" stroke-width="0.9" fill="none"/>
<path d="M572.78 296.21H578.98M575.88 292.86V299.56" stroke="#EF67EB" stroke-width="0.9" fill="none"/>
<path d="M572.96 299.74H579.16M576.06 296.39V303.09" stroke="#EF67EB" stroke-width="0.9" fill="none"/>
<path d="M573.14 299.48H579.34M576.24 296.13V302.83" stroke="#EF67EB" stroke-width="0.9" fill="none"/>
<path d="M573.32 294.5H579.52M576.42 291.15V297.85" stroke="#EF67EB" stroke-width="0.9" fill="none"/>
<path d="M573.5 296.64H579.7M576.6 293.29V299.99" stroke="#EF67EB" stroke-width="0.9" fill="none"/>
<path d="M573.68 297.09H579.88M576.78 293.74V300.44" stroke="#EF67EB" stroke-width="0.9" fill="none"/>
<path d="M573.86 295.44H580.06M576.96 292.09V298.79" stroke="#EF67EB" stroke-width="0.9" fill="none"/>
<path d="M574.04 298.64H580.24M577.14 295.29V301.99" stroke="#EF67EB" stroke-width="0.9" fill="none"/>
<path d="M574.22 303.5H580.42M577.32 300.15V306.85" stroke="#EF67EB" stroke-width="0.9" fill="none"/>
<path d="M574.4 297.22H580.6M577.5 293.87V300.57" stroke="#EF67EB" stroke-width="0.9" fill="none"/>
<path d="M574.58 294.29H580.78M577.68 290.94V297.64" stroke="#EF67EB" stroke-width="0.9" fill="none"/>
<path d="M574.76 297.71H580.96M577.86 294.36V301.06" stroke="#EF67EB" stroke-width="0.9" fill="none"/>
<path d="M574.93 296.68H581.13M578.03 293.33V300.03" stroke="#EF67EB" stroke-width="0.9" fill="none"/>
<path d="M575.11 295.13H581.31M578.21 291.78V298.48" stroke="#EF67EB" stroke-width="0.9" fill="none"/>
<path d="M575.29 292.25H581.49M578.39 288.9V295.6" stroke="#EF67EB" stroke-width="0.9" fill="none"/>
<path d="M575.47 299.94H581.67M578.57 296.59V303.29" stroke="#EF67EB" stroke-width="0.9" fill="none"/>
<path d="M575.65 295.57H581.85M578.75 292.22V298.92" stroke="#EF67EB" stroke-width="0.9" fill="none"/>
<path d="M575.8 288.5H582M578.9 285.15V291.85" stroke="#EF67EB" stroke-width="0.9" fill="none"/>
<path d="M576.01 292.49H582.21M579.11 289.14V295.84" stroke="#EF67EB" stroke-width="0.9" fill="none"/>
<path d="M576.19 299.12H582.39M579.29 295.77V302.47" stroke="#EF67EB" stroke-width="0.9" fill="none"/>
<path d="M576.4 307.6H582.6M579.5 304.25V310.95" stroke="#EF67EB" stroke-width="0.9" fill="none"/>
<path d="M576.55 294.89H582.75M579.65 291.54V298.24" stroke="#EF67EB" stroke-width="0.9" fill="none"/>
<path d="M576.73 325.64H582.93M579.83 322.29V328.99" stroke="#FF63B6" stroke-width="0.9" fill="none"/>
<path d="M576.91 324.02H583.11M580.01 320.67V327.37" stroke="#FF63B6" stroke-width="0.9" fill="none"/>
<path d="M577.09 326.22H583.29M580.19 322.87V329.57" stroke="#FF63B6" stroke-width="0.9" fill="none"/>
<path d="M577.27 327.55H583.47M580.37 324.2V330.9" stroke="#FF63B6" stroke-width="0.9" fill="none"/>
<path d="M577.44 328.36H583.64M580.54 325.01V331.71" stroke="#FF63B6" stroke-width="0.9" fill="none"/>
<path d="M577.62 328.44H583.82M580.72 325.09V331.79" stroke="#FF63B6" stroke-width="0.9" fill="none"/>
<path d="M577.8 327.06H584M580.9 323.71V330.41" stroke="#FF63B6" stroke-width="0.9" fill="none"/>
<path d="M577.98 327.94H584.18M581.08 324.59V331.29" stroke="#FF63B6" stroke-width="0.9" fill="none"/>
<path d="M578.16 325.08H584.36M581.26 321.73V328.43" stroke="#FF63B6" stroke-width="0.9" fill="none"/>
<path d="M578.34 325.6H584.54M581.44 322.25V328.95" stroke="#FF63B6" stroke-width="0.9" fill="none"/>
<path d="M578.52 329.11H584.72M581.62 325.76V332.46" stroke="#FF63B6" stroke-width="0.9" fill="none"/>
<path d="M578.7 323.7H584.9M581.8 320.35V327.05" stroke="#FF63B6" stroke-width="0.9" fill="none"/>
<path d="M578.88 325.43H585.08M581.98 322.08V328.78" stroke="#FF63B6" stroke-width="0.9" fill="none"/>
<path d="M579.06 329.74H585.26M582.16 326.39V333.09" stroke="#FF63B6" stroke-width="0.9" fill="none"/>
<path d="M579.24 325.55H585.44M582.34 322.2V328.9" stroke="#FF63B6" stroke-width="0.9" fill="none"/>
<path d="M579.42 325.28H585.62M582.52 321.93V328.63" stroke="#FF63B6" stroke-width="0.9" fill="none"/>
<path d="M579.6 325.58H585.8M582.7 322.23V328.93" stroke="#FF63B6" stroke-width="0.9" fill="none"/>
<path d="M579.78 328.31H585.98M582.88 324.96V331.66" stroke="#FF63B6" stroke-width="0.9" fill="none"/>
<path d="M579.95 326.31H586.15M583.05 322.96V329.66" stroke="#FF63B6" stroke-width="0.9" fill="none"/>
<path d="M580.13 326.86H586.33M583.23 323.51V330.21" stroke="#FF63B6" stroke-width="0.9" fill="none"/>
<path d="M580.31 328.58H586.51M583.41 325.23V331.93" stroke="#FF63B6" stroke-width="0.9" fill="none"/>
<path d="M580.49 324.67H586.69M583.59 321.32V328.02" stroke="#FF63B6" stroke-width="0.9" fill="none"/>
<path d="M580.67 327.11H586.87M583.77 323.76V330.46" stroke="#FF63B6" stroke-width="0.9" fill="none"/>
<path d="M580.85 326.36H587.05M583.95 323.01V329.71" stroke="#FF63B6" stroke-width="0.9" fill="none"/>
<path d="M581.03 327.25H587.23M584.13 323.9V330.6" stroke="#FF63B6" stroke-width="0.9" fill="none"/>
<path d="M581.21 324.68H587.41M584.31 321.33V328.03" stroke="#FF63B6" stroke-width="0.9" fill="none"/>
<path d="M581.39 327.05H587.59M584.49 323.7V330.4" stroke="#FF63B6" stroke-width="0.9" fill="none"/>
<path d="M581.57 329.31H587.77M584.67 325.96V332.66" stroke="#FF63B6" stroke-width="0.9" fill="none"/>
<path d="M581.75 329.62H587.95M584.85 326.27V332.97" stroke="#FF63B6" stroke-width="0.9" fill="none"/>
<path d="M581.93 330.92H588.13M585.03 327.57V334.27" stroke="#FF63B6" stroke-width="0.9" fill="none"/>
<path d="M582.11 328.69H588.31M585.21 325.34V332.04" stroke="#FF63B6" stroke-width="0.9" fill="none"/>
<path d="M582.29 328.26H588.49M585.39 324.91V331.61" stroke="#FF63B6" stroke-width="0.9" fill="none"/>
<path d="M582.47 328.9H588.67M585.57 325.55V332.25" stroke="#FF63B6" stroke-width="0.9" fill="none"/>
<path d="M582.64 323.33H588.84M585.74 319.98V326.68" stroke="#FF63B6" stroke-width="0.9" fill="none"/>
<path d="M582.82 328.29H589.02M585.92 324.94V331.64" stroke="#FF63B6" stroke-width="0.9" fill="none"/>
<path d="M583 328.86H589.2M586.1 325.51V332.21" stroke="#FF63B6" stroke-width="0.9" fill="none"/>
<path d="M583.18 328.05H589.38M586.28 324.7V331.4" stroke="#FF63B6" stroke-width="0.9" fill="none"/>
<path d="M583.36 328.16H589.56M586.46 324.81V331.51" stroke="#FF63B6" stroke-width="0.9" fill="none"/>
<path d="M583.54 325.45H589.74M586.64 322.1V328.8" stroke="#FF63B6" stroke-width="0.9" fill="none"/>
<path d="M583.72 327.73H589.92M586.82 324.38V331.08" stroke="#FF63B6" stroke-width="0.9" fill="none"/>
<path d="M583.9 329.85H590.1M587 326.5V333.2" stroke="#FF63B6" stroke-width="0.9" fill="none"/>
<path d="M584.08 327.93H590.28M587.18 324.58V331.28" stroke="#FF63B6" stroke-width="0.9" fill="none"/>
<path d="M584.26 325.01H590.46M587.36 321.66V328.36" stroke="#FF63B6" stroke-width="0.9" fill="none"/>
<path d="M584.44 326.78H590.64M587.54 323.43V330.13" stroke="#FF63B6" stroke-width="0.9" fill="none"/>
<path d="M584.62 327.83H590.82M587.72 324.48V331.18" stroke="#FF63B6" stroke-width="0.9" fill="none"/>
<path d="M584.8 326.08H591M587.9 322.73V329.43" stroke="#FF63B6" stroke-width="0.9" fill="none"/>
<path d="M584.98 327.24H591.18M588.08 323.89V330.59" stroke="#FF63B6" stroke-width="0.9" fill="none"/>
<path d="M585.15 328.29H591.35M588.25 324.94V331.64" stroke="#FF63B6" stroke-width="0.9" fill="none"/>
<path d="M585.33 328.22H591.53M588.43 324.87V331.57" stroke="#FF63B6" stroke-width="0.9" fill="none"/>
<path d="M585.51 324.36H591.71M588.61 321.01V327.71" stroke="#FF63B6" stroke-width="0.9" fill="none"/>
<path d="M585.69 327.47H591.89M588.79 324.12V330.82" stroke="#FF63B6" stroke-width="0.9" fill="none"/>
<path d="M585.87 325.96H592.07M588.97 322.61V329.31" stroke="#FF63B6" stroke-width="0.9" fill="none"/>
<path d="M586.05 328.69H592.25M589.15 325.34V332.04" stroke="#FF63B6" stroke-width="0.9" fill="none"/>
<path d="M586.23 327.88H592.43M589.33 324.53V331.23" stroke="#FF63B6" stroke-width="0.9" fill="none"/>
<path d="M586.41 330.96H592.61M589.51 327.61V334.31" stroke="#FF63B6" stroke-width="0.9" fill="none"/>
<path d="M586.59 325.42H592.79M589.69 322.07V328.77" stroke="#FF63B6" stroke-width="0.9" fill="none"/>
<path d="M586.77 327.06H592.97M589.87 323.71V330.41" stroke="#FF63B6" stroke-width="0.9" fill="none"/>
<path d="M586.95 327.51H593.15M590.05 324.16V330.86" stroke="#FF63B6" stroke-width="0.9" fill="none"/>
<path d="M587.13 329.41H593.33M590.23 326.06V332.76" stroke="#FF63B6" stroke-width="0.9" fill="none"/>
<path d="M587.31 325.47H593.51M590.41 322.12V328.82" stroke="#FF63B6" stroke-width="0.9" fill="none"/>
<path d="M587.49 328.49H593.69M590.59 325.14V331.84" stroke="#FF63B6" stroke-width="0.9" fill="none"/>
<path d="M587.66 326.47H593.86M590.76 323.12V329.82" stroke="#FF63B6" stroke-width="0.9" fill="none"/>
<path d="M587.84 325.29H594.04M590.94 321.94V328.64" stroke="#FF63B6" stroke-width="0.9" fill="none"/>
<path d="M588.02 328.63H594.22M591.12 325.28V331.98" stroke="#FF63B6" stroke-width="0.9" fill="none"/>
<path d="M588.2 328.95H594.4M591.3 325.6V332.3" stroke="#FF63B6" stroke-width="0.9" fill="none"/>
<path d="M588.38 329.35H594.58M591.48 326V332.7" stroke="#FF63B6" stroke-width="0.9" fill="none"/>
<path d="M588.56 330.34H594.76M591.66 326.99V333.69" stroke="#FF63B6" stroke-width="0.9" fill="none"/>
<path d="M588.74 329.79H594.94M591.84 326.44V333.14" stroke="#FF63B6" stroke-width="0.9" fill="none"/>
<path d="M588.92 327.75H595.12M592.02 324.4V331.1" stroke="#FF63B6" stroke-width="0.9" fill="none"/>
<path d="M589.1 325.86H595.3M592.2 322.51V329.21" stroke="#FF63B6" stroke-width="0.9" fill="none"/>
<path d="M589.28 329.93H595.48M592.38 326.58V333.28" stroke="#FF63B6" stroke-width="0.9" fill="none"/>
<path d="M589.46 328.12H595.66M592.56 324.77V331.47" stroke="#FF63B6" stroke-width="0.9" fill="none"/>
<path d="M589.64 325.97H595.84M592.74 322.62V329.32" stroke="#FF63B6" stroke-width="0.9" fill="none"/>
<path d="M589.82 324.54H596.02M592.92 321.19V327.89" stroke="#FF63B6" stroke-width="0.9" fill="none"/>
<path d="M590 326.17H596.2M593.1 322.82V329.52" stroke="#FF63B6" stroke-width="0.9" fill="none"/>
<path d="M590.17 325.24H596.37M593.27 321.89V328.59" stroke="#FF63B6" stroke-width="0.9" fill="none"/>
<path d="M590.35 327.32H596.55M593.45 323.97V330.67" stroke="#FF63B6" stroke-width="0.9" fill="none"/>
<path d="M590.53 325.45H596.73M593.63 322.1V328.8" stroke="#FF63B6" stroke-width="0.9" fill="none"/>
<path d="M590.71 327.03H596.91M593.81 323.68V330.38" stroke="#FF63B6" stroke-width="0.9" fill="none"/>
<path d="M590.89 330.86H597.09M593.99 327.51V334.21" stroke="#FF63B6" stroke-width="0.9" fill="none"/>
<path d="M591.07 327.15H597.27M594.17 323.8V330.5" stroke="#FF63B6" stroke-width="0.9" fill="none"/>
<path d="M591.25 328.88H597.45M594.35 325.53V332.23" stroke="#FF63B6" stroke-width="0.9" fill="none"/>
<path d="M591.43 328.87H597.63M594.53 325.52V332.22" stroke="#FF63B6" stroke-width="0.9" fill="none"/>
<path d="M591.61 327.42H597.81M594.71 324.07V330.77" stroke="#FF63B6" stroke-width="0.9" fill="none"/>
<path d="M591.79 329.5H597.99M594.89 326.15V332.85" stroke="#FF63B6" stroke-width="0.9" fill="none"/>
<path d="M591.97 328.61H598.17M595.07 325.26V331.96" stroke="#FF63B6" stroke-width="0.9" fill="none"/>
<path d="M592.15 324.98H598.35M595.25 321.63V328.33" stroke="#FF63B6" stroke-width="0.9" fill="none"/>
<path d="M592.33 326.94H598.53M595.43 323.59V330.29" stroke="#FF63B6" stroke-width="0.9" fill="none"/>
<path d="M592.51 328.07H598.71M595.61 324.72V331.42" stroke="#FF63B6" stroke-width="0.9" fill="none"/>
<path d="M592.69 329.96H598.89M595.79 326.61V333.31" stroke="#FF63B6" stroke-width="0.9" fill="none"/>
<path d="M592.86 326.67H599.06M595.96 323.32V330.02" stroke="#FF63B6" stroke-width="0.9" fill="none"/>
<path d="M593.04 328.38H599.24M596.14 325.03V331.73" stroke="#FF63B6" stroke-width="0.9" fill="none"/>
<path d="M593.22 327.3H599.42M596.32 323.95V330.65" stroke="#FF63B6" stroke-width="0.9" fill="none"/>
<path d="M593.4 327.22H599.6M596.5 323.87V330.57" stroke="#FF63B6" stroke-width="0.9" fill="none"/>
<path d="M593.58 329.57H599.78M596.68 326.22V332.92" stroke="#FF63B6" stroke-width="0.9" fill="none"/>
<path d="M593.76 327.46H599.96M596.86 324.11V330.81" stroke="#FF63B6" stroke-width="0.9" fill="none"/>
<path d="M593.94 328.92H600.14M597.04 325.57V332.27" stroke="#FF63B6" stroke-width="0.9" fill="none"/>
<path d="M594.12 326.97H600.32M597.22 323.62V330.32" stroke="#FF63B6" stroke-width="0.9" fill="none"/>
<path d="M594.3 327.29H600.5M597.4 323.94V330.64" stroke="#FF63B6" stroke-width="0.9" fill="none"/>
<path d="M594.48 328.23H600.68M597.58 324.88V331.58" stroke="#FF63B6" stroke-width="0.9" fill="none"/>
<path d="M594.66 325.43H600.86M597.76 322.08V328.78" stroke="#FF63B6" stroke-width="0.9" fill="none"/>
<path d="M594.84 328.89H601.04M597.94 325.54V332.24" stroke="#FF63B6" stroke-width="0.9" fill="none"/>
<path d="M595.02 330.8H601.22M598.12 327.45V334.15" stroke="#FF63B6" stroke-width="0.9" fill="none"/>
<path d="M595.2 328.43H601.4M598.3 325.08V331.78" stroke="#FF63B6" stroke-width="0.9" fill="none"/>
<path d="M595.37 327.43H601.57M598.47 324.08V330.78" stroke="#FF63B6" stroke-width="0.9" fill="none"/>
<path d="M595.55 326.43H601.75M598.65 323.08V329.78" stroke="#FF63B6" stroke-width="0.9" fill="none"/>
<path d="M595.73 327.73H601.93M598.83 324.38V331.08" stroke="#FF63B6" stroke-width="0.9" fill="none"/>
<path d="M595.91 326.99H602.11M599.01 323.64V330.34" stroke="#FF63B6" stroke-width="0.9" fill="none"/>
<path d="M596.09 328.57H602.29M599.19 325.22V331.92" stroke="#FF63B6" stroke-width="0.9" fill="none"/>
<path d="M596.27 325.05H602.47M599.37 321.7V328.4" stroke="#FF63B6" stroke-width="0.9" fill="none"/>
<path d="M596.45 329H602.65M599.55 325.65V332.35" stroke="#FF63B6" stroke-width="0.9" fill="none"/>
<path d="M596.63 327.75H602.83M599.73 324.4V331.1" stroke="#FF63B6" stroke-width="0.9" fill="none"/>
<path d="M596.81 328.22H603.01M599.91 324.87V331.57" stroke="#FF63B6" stroke-width="0.9" fill="none"/>
<path d="M596.99 327.95H603.19M600.09 324.6V331.3" stroke="#FF63B6" stroke-width="0.9" fill="none"/>
<path d="M597.17 327.01H603.37M600.27 323.66V330.36" stroke="#FF63B6" stroke-width="0.9" fill="none"/>
<path d="M597.35 328.58H603.55M600.45 325.23V331.93" stroke="#FF63B6" stroke-width="0.9" fill="none"/>
<path d="M597.53 327.55H603.73M600.63 324.2V330.9" stroke="#FF63B6" stroke-width="0.9" fill="none"/>
<path d="M597.71 326.38H603.91M600.81 323.03V329.73" stroke="#FF63B6" stroke-width="0.9" fill="none"/>
<path d="M597.88 328.84H604.08M600.98 325.49V332.19" stroke="#FF63B6" stroke-width="0.9" fill="none"/>
<path d="M598.06 330.9H604.26M601.16 327.55V334.25" stroke="#FF63B6" stroke-width="0.9" fill="none"/>
<path d="M598.24 327.36H604.44M601.34 324.01V330.71" stroke="#FF63B6" stroke-width="0.9" fill="none"/>
<path d="M598.42 328.18H604.62M601.52 324.83V331.53" stroke="#FF63B6" stroke-width="0.9" fill="none"/>
<path d="M598.6 329.07H604.8M601.7 325.72V332.42" stroke="#FF63B6" stroke-width="0.9" fill="none"/>
<path d="M598.78 326.54H604.98M601.88 323.19V329.89" stroke="#FF63B6" stroke-width="0.9" fill="none"/>
<path d="M598.96 326.44H605.16M602.06 323.09V329.79" stroke="#FF63B6" stroke-width="0.9" fill="none"/>
<path d="M599.14 325.36H605.34M602.24 322.01V328.71" stroke="#FF63B6" stroke-width="0.9" fill="none"/>
<path d="M599.32 326.93H605.52M602.42 323.58V330.28" stroke="#FF63B6" stroke-width="0.9" fill="none"/>
<path d="M599.5 327.11H605.7M602.6 323.76V330.46" stroke="#FF63B6" stroke-width="0.9" fill="none"/>
<path d="M599.68 326.21H605.88M602.78 322.86V329.56" stroke="#FF63B6" stroke-width="0.9" fill="none"/>
<path d="M599.86 325.84H606.06M602.96 322.49V329.19" stroke="#FF63B6" stroke-width="0.9" fill="none"/>
<path d="M600.04 327.53H606.24M603.14 324.18V330.88" stroke="#FF63B6" stroke-width="0.9" fill="none"/>
<path d="M600.22 328.06H606.42M603.32 324.71V331.41" stroke="#FF63B6" stroke-width="0.9" fill="none"/>
<path d="M600.4 327.27H606.6M603.5 323.92V330.62" stroke="#FF63B6" stroke-width="0.9" fill="none"/>
<path d="M600.57 323.47H606.77M603.67 320.12V326.82" stroke="#FF63B6" stroke-width="0.9" fill="none"/>
<path d="M600.75 326.3H606.95M603.85 322.95V329.65" stroke="#FF63B6" stroke-width="0.9" fill="none"/>
<path d="M600.93 326.02H607.13M604.03 322.67V329.37" stroke="#FF63B6" stroke-width="0.9" fill="none"/>
<path d="M601.11 328.12H607.31M604.21 324.77V331.47" stroke="#FF63B6" stroke-width="0.9" fill="none"/>
<path d="M601.29 325.58H607.49M604.39 322.23V328.93" stroke="#FF63B6" stroke-width="0.9" fill="none"/>
<path d="M601.47 327.06H607.67M604.57 323.71V330.41" stroke="#FF63B6" stroke-width="0.9" fill="none"/>
<path d="M601.65 327.28H607.85M604.75 323.93V330.63" stroke="#FF63B6" stroke-width="0.9" fill="none"/>
<path d="M601.83 324.24H608.03M604.93 320.89V327.59" stroke="#FF63B6" stroke-width="0.9" fill="none"/>
<path d="M602.01 327.59H608.21M605.11 324.24V330.94" stroke="#FF63B6" stroke-width="0.9" fill="none"/>
<path d="M602.19 327.65H608.39M605.29 324.3V331" stroke="#FF63B6" stroke-width="0.9" fill="none"/>
<path d="M602.37 328.9H608.57M605.47 325.55V332.25" stroke="#FF63B6" stroke-width="0.9" fill="none"/>
<path d="M602.55 327.56H608.75M605.65 324.21V330.91" stroke="#FF63B6" stroke-width="0.9" fill="none"/>
<path d="M602.73 325.07H608.93M605.83 321.72V328.42" stroke="#FF63B6" stroke-width="0.9" fill="none"/>
<path d="M602.91 327.4H609.11M606.01 324.05V330.75" stroke="#FF63B6" stroke-width="0.9" fill="none"/>
<path d="M603.08 325.37H609.28M606.18 322.02V328.72" stroke="#FF63B6" stroke-width="0.9" fill="none"/>
<path d="M603.26 325.84H609.46M606.36 322.49V329.19" stroke="#FF63B6" stroke-width="0.9" fill="none"/>
<path d="M603.44 328.27H609.64M606.54 324.92V331.62" stroke="#FF63B6" stroke-width="0.9" fill="none"/>
<path d="M603.62 330.34H609.82M606.72 326.99V333.69" stroke="#FF63B6" stroke-width="0.9" fill="none"/>
<path d="M603.8 327.93H610M606.9 324.58V331.28" stroke="#FF63B6" stroke-width="0.9" fill="none"/>
<path d="M603.98 327.87H610.18M607.08 324.52V331.22" stroke="#FF63B6" stroke-width="0.9" fill="none"/>
<path d="M604.16 329.8H610.36M607.26 326.45V333.15" stroke="#FF63B6" stroke-width="0.9" fill="none"/>
<path d="M604.34 325.92H610.54M607.44 322.57V329.27" stroke="#FF63B6" stroke-width="0.9" fill="none"/>
<path d="M604.52 325.86H610.72M607.62 322.51V329.21" stroke="#FF63B6" stroke-width="0.9" fill="none"/>
<path d="M604.7 326.88H610.9M607.8 323.53V330.23" stroke="#FF63B6" stroke-width="0.9" fill="none"/>
<path d="M604.88 328.83H611.08M607.98 325.48V332.18" stroke="#FF63B6" stroke-width="0.9" fill="none"/>
<path d="M605.06 331.13H611.26M608.16 327.78V334.48" stroke="#FF63B6" stroke-width="0.9" fill="none"/>
<path d="M605.24 330.9H611.44M608.34 327.55V334.25" stroke="#FF63B6" stroke-width="0.9" fill="none"/>
<path d="M605.42 329.68H611.62M608.52 326.33V333.03" stroke="#FF63B6" stroke-width="0.9" fill="none"/>
<path d="M605.59 329.39H611.79M608.69 326.04V332.74" stroke="#FF63B6" stroke-width="0.9" fill="none"/>
<path d="M605.77 327.07H611.97M608.87 323.72V330.42" stroke="#FF63B6" stroke-width="0.9" fill="none"/>
<path d="M605.95 326.47H612.15M609.05 323.12V329.82" stroke="#FF63B6" stroke-width="0.9" fill="none"/>
<path d="M606.13 329.09H612.33M609.23 325.74V332.44" stroke="#FF63B6" stroke-width="0.9" fill="none"/>
<path d="M606.31 327.25H612.51M609.41 323.9V330.6" stroke="#FF63B6" stroke-width="0.9" fill="none"/>
<path d="M606.49 328.83H612.69M609.59 325.48V332.18" stroke="#FF63B6" stroke-width="0.9" fill="none"/>
<line x1="31.6" x2="35" y1="87.75" y2="87.75" stroke="#333333" stroke-width="1.35"/>
<line x1="31.6" x2="35" y1="205.55" y2="205.55" stroke="#333333" stroke-width="1.35"/>
<line x1="31.6" x2="35" y1="323.35" y2="323.35" stroke="#333333" stroke-width="1.35"/>
<line x1="45.5" x2="45.5" y1="343.6" y2="347.6" stroke="#333333" stroke-width="1.25"/>
<line x1="90.1" x2="90.1" y1="343.6" y2="347.6" stroke="#333333" stroke-width="1.25"/>
<line x1="134.7" x2="134.7" y1="343.6" y2="347.6" stroke="#333333" stroke-width="1.25"/>
<line x1="179.3" x2="179.3" y1="343.6" y2="347.6" stroke="#333333" stroke-width="1.25"/>
<line x1="223.9" x2="223.9" y1="343.6" y2="347.6" stroke="#333333" stroke-width="1.25"/>
<line x1="268.5" x2="268.5" y1="343.6" y2="347.6" stroke="#333333" stroke-width="1.25"/>
<line x1="383.6" x2="387" y1="67.2" y2="67.2" stroke="#333333" stroke-width="1.35"/>
<line x1="383.6" x2="387" y1="141.3" y2="141.3" stroke="#333333" stroke-width="1.35"/>
<line x1="383.6" x2="387" y1="215.4" y2="215.4" stroke="#333333" stroke-width="1.35"/>
<line x1="383.6" x2="387" y1="289.5" y2="289.5" stroke="#333333" stroke-width="1.35"/>
<line x1="397.3" x2="397.3" y1="347.2" y2="351.5" stroke="#333333" stroke-width="1.25"/>
<line x1="451.09" x2="451.09" y1="347.2" y2="351.5" stroke="#333333" stroke-width="1.25"/>
<line x1="504.88" x2="504.88" y1="347.2" y2="351.5" stroke="#333333" stroke-width="1.25"/>
<line x1="558.67" x2="558.67" y1="347.2" y2="351.5" stroke="#333333" stroke-width="1.25"/>
<line x1="612.46" x2="612.46" y1="347.2" y2="351.5" stroke="#333333" stroke-width="1.25"/>
<text transform="translate(29.2,92.7) scale(0.82,1)" font-size="12.6" text-anchor="end" fill="#383838" stroke="#383838" stroke-width="0.15">50</text>
<text transform="translate(29.2,210.5) scale(0.82,1)" font-size="12.6" text-anchor="end" fill="#383838" stroke="#383838" stroke-width="0.15">0</text>
<text transform="translate(29.2,328.3) scale(0.82,1)" font-size="12.6" text-anchor="end" fill="#383838" stroke="#383838" stroke-width="0.15">-50</text>
<text transform="translate(45.5,360.2) scale(0.82,1)" font-size="12.6" text-anchor="middle" fill="#383838" stroke="#383838" stroke-width="0.15">0</text>
<text transform="translate(90.1,360.2) scale(0.82,1)" font-size="12.6" text-anchor="middle" fill="#383838" stroke="#383838" stroke-width="0.15">50</text>
<g transform="translate(134.7,360.2) scale(0.82,1)">
<text x="-10.51" font-size="12.6" fill="#383838" stroke="#383838" stroke-width="0.15"> 00</text>
<path transform="translate(-10.51,0) scale(0.006152,-0.006152)" d="M763 0H583V1098Q518 1039 412.5 979T223 890V1057Q374 1125 487 1221T647 1409H763V0Z" fill="#383838" stroke="#383838" stroke-width="24.38"/>
</g>
<g transform="translate(179.3,360.2) scale(0.82,1)">
<text x="-10.51" font-size="12.6" fill="#383838" stroke="#383838" stroke-width="0.15"> 50</text>
<path transform="translate(-10.51,0) scale(0.006152,-0.006152)" d="M763 0H583V1098Q518 1039 412.5 979T223 890V1057Q374 1125 487 1221T647 1409H763V0Z" fill="#383838" stroke="#383838" stroke-width="24.38"/>
</g>
<text transform="translate(223.9,360.2) scale(0.82,1)" font-size="12.6" text-anchor="middle" fill="#383838" stroke="#383838" stroke-width="0.15">200</text>
<text transform="translate(268.5,360.2) scale(0.82,1)" font-size="12.6" text-anchor="middle" fill="#383838" stroke="#383838" stroke-width="0.15">250</text>
<text transform="translate(381.4,72.3) scale(0.82,1)" font-size="12.6" text-anchor="end" fill="#383838" stroke="#383838" stroke-width="0.15">200</text>
<g transform="translate(381.4,146.4) scale(0.82,1)">
<text x="-21.02" font-size="12.6" fill="#383838" stroke="#383838" stroke-width="0.15"> 00</text>
<path transform="translate(-21.02,0) scale(0.006152,-0.006152)" d="M763 0H583V1098Q518 1039 412.5 979T223 890V1057Q374 1125 487 1221T647 1409H763V0Z" fill="#383838" stroke="#383838" stroke-width="24.38"/>
</g>
<text transform="translate(381.4,220.5) scale(0.82,1)" font-size="12.6" text-anchor="end" fill="#383838" stroke="#383838" stroke-width="0.15">0</text>
<g transform="translate(381.4,294.6) scale(0.82,1)">
<text x="-25.22" font-size="12.6" fill="#383838" stroke="#383838" stroke-width="0.15">- 00</text>
<path transform="translate(-21.02,0) scale(0.006152,-0.006152)" d="M763 0H583V1098Q518 1039 412.5 979T223 890V1057Q374 1125 487 1221T647 1409H763V0Z" fill="#383838" stroke="#383838" stroke-width="24.38"/>
</g>
<text transform="translate(397.3,363.6) scale(0.82,1)" font-size="12.6" text-anchor="middle" fill="#383838" stroke="#383838" stroke-width="0.15">0</text>
<text transform="translate(451.09,363.6) scale(0.82,1)" font-size="12.6" text-anchor="middle" fill="#383838" stroke="#383838" stroke-width="0.15">300</text>
<text transform="translate(504.88,363.6) scale(0.82,1)" font-size="12.6" text-anchor="middle" fill="#383838" stroke="#383838" stroke-width="0.15">600</text>
<text transform="translate(558.67,363.6) scale(0.82,1)" font-size="12.6" text-anchor="middle" fill="#383838" stroke="#383838" stroke-width="0.15">900</text>
<text transform="translate(153.3,381) scale(0.89,1)" font-size="11.8" text-anchor="middle" fill="#000" stroke="#000" stroke-width="0.15">Sample number</text>
<text transform="translate(518.15,380.8) scale(0.91,1)" font-size="11.8" text-anchor="middle" fill="#000" stroke="#000" stroke-width="0.15">Sample number</text>
<g transform="translate(8.6,175.9) rotate(-90) scale(1,0.9)">
<text x="-6.71" font-size="11.5" fill="#000" stroke="#000" stroke-width="0.15">T </text>
<path transform="translate(0.31,0) scale(0.005615,-0.005615)" d="M763 0H583V1098Q518 1039 412.5 979T223 890V1057Q374 1125 487 1221T647 1409H763V0Z" fill="#000" stroke="#000" stroke-width="26.71"/>
</g>
<text transform="translate(14.4,12.5) scale(0.95,1)" font-size="16.3" text-anchor="start" fill="#000" stroke="#000" stroke-width="0.15">A</text>
<text transform="translate(359.9,12.6) scale(1,1)" font-size="16.4" text-anchor="start" fill="#000" stroke="#000" stroke-width="0.15">B</text>
<rect x="293.3" y="161" width="18.6" height="22" fill="#F2F2F2"/>
<ellipse cx="302.7" cy="172.3" rx="2.2" ry="2.7" fill="#F8766D"/>
<text transform="translate(315.5,177.3) scale(0.82,1)" font-size="12.6" text-anchor="start" fill="#000" stroke="#000" stroke-width="0.15">CEU</text>
<rect x="293.3" y="184.6" width="18.6" height="22" fill="#F2F2F2"/>
<ellipse cx="302.7" cy="195.9" rx="2.2" ry="2.7" fill="#00BFC4"/>
<text transform="translate(315.5,200.3) scale(0.82,1)" font-size="12.6" text-anchor="start" fill="#000" stroke="#000" stroke-width="0.15">TSI</text>
<rect x="631.2" y="47" width="18.7" height="22" fill="#F2F2F2"/>
<ellipse cx="640.6" cy="58" rx="2.2" ry="2.7" fill="#F8766D"/>
<text transform="translate(659.4,56.9) scale(0.82,1)" font-size="12.6" text-anchor="start" fill="#000" stroke="#000" stroke-width="0.15">CHB</text>
<rect x="631.2" y="70.62" width="18.7" height="22" fill="#F2F2F2"/>
<ellipse cx="640.6" cy="81.62" rx="2.2" ry="2.7" fill="#DB8E00"/>
<text transform="translate(659.4,81.59) scale(0.82,1)" font-size="12.6" text-anchor="start" fill="#000" stroke="#000" stroke-width="0.15">CHD</text>
<rect x="631.2" y="94.24" width="18.7" height="22" fill="#F2F2F2"/>
<ellipse cx="640.6" cy="105.24" rx="2.2" ry="2.7" fill="#AEA200"/>
<text transform="translate(659.4,106.28) scale(0.82,1)" font-size="12.6" text-anchor="start" fill="#000" stroke="#000" stroke-width="0.15">JPT</text>
<rect x="631.2" y="117.86" width="18.7" height="22" fill="#F2F2F2"/>
<ellipse cx="640.6" cy="128.86" rx="2.2" ry="2.7" fill="#64B200"/>
<text transform="translate(659.4,130.97) scale(0.82,1)" font-size="12.6" text-anchor="start" fill="#000" stroke="#000" stroke-width="0.15">TSI</text>
<rect x="631.2" y="141.48" width="18.7" height="22" fill="#F2F2F2"/>
<ellipse cx="640.6" cy="152.48" rx="2.2" ry="2.7" fill="#00BD5C"/>
<text transform="translate(659.4,155.66) scale(0.82,1)" font-size="12.6" text-anchor="start" fill="#000" stroke="#000" stroke-width="0.15">CEU</text>
<rect x="631.2" y="165.1" width="18.7" height="22" fill="#F2F2F2"/>
<ellipse cx="640.6" cy="176.1" rx="2.2" ry="2.7" fill="#00C1A7"/>
<text transform="translate(659.4,180.35) scale(0.82,1)" font-size="12.6" text-anchor="start" fill="#000" stroke="#000" stroke-width="0.15">GIH</text>
<rect x="631.2" y="188.72" width="18.7" height="22" fill="#F2F2F2"/>
<ellipse cx="640.6" cy="199.72" rx="2.2" ry="2.7" fill="#00BADE"/>
<text transform="translate(659.4,205.04) scale(0.82,1)" font-size="12.6" text-anchor="start" fill="#000" stroke="#000" stroke-width="0.15">MEX</text>
<rect x="631.2" y="212.34" width="18.7" height="22" fill="#F2F2F2"/>
<ellipse cx="640.6" cy="223.34" rx="2.2" ry="2.7" fill="#00A6FF"/>
<text transform="translate(659.4,229.73) scale(0.82,1)" font-size="12.6" text-anchor="start" fill="#000" stroke="#000" stroke-width="0.15">ASW</text>
<rect x="631.2" y="235.96" width="18.7" height="22" fill="#F2F2F2"/>
<ellipse cx="640.6" cy="246.96" rx="2.2" ry="2.7" fill="#B385FF"/>
<text transform="translate(659.4,254.42) scale(0.82,1)" font-size="12.6" text-anchor="start" fill="#000" stroke="#000" stroke-width="0.15">LWK</text>
<rect x="631.2" y="259.58" width="18.7" height="22" fill="#F2F2F2"/>
<ellipse cx="640.6" cy="270.58" rx="2.2" ry="2.7" fill="#EF67EB"/>
<text transform="translate(659.4,279.11) scale(0.82,1)" font-size="12.6" text-anchor="start" fill="#000" stroke="#000" stroke-width="0.15">MKK</text>
<rect x="631.2" y="283.2" width="18.7" height="22" fill="#F2F2F2"/>
<ellipse cx="640.6" cy="294.2" rx="2.2" ry="2.7" fill="#FF63B6"/>
<text transform="translate(659.4,303.8) scale(0.82,1)" font-size="12.6" text-anchor="start" fill="#000" stroke="#000" stroke-width="0.15">YRI</text>
</svg>
</div>
</body></html>
